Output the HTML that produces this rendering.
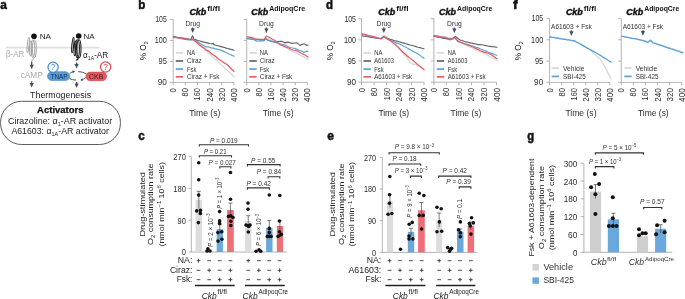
<!DOCTYPE html>
<html><head><meta charset="utf-8"><style>
html,body{margin:0;padding:0;background:#fff;width:685px;height:299px;overflow:hidden}
svg{display:block;will-change:transform}
text{font-family:"Liberation Sans",sans-serif}
</style></head><body>
<svg xmlns="http://www.w3.org/2000/svg" width="685" height="299" viewBox="0 0 685 299">
<rect width="685" height="299" fill="#fff"/>
<text x="0.20" y="9.20" font-family="Liberation Sans, sans-serif" font-size="12.2" text-anchor="start" font-weight="bold" font-style="normal" fill="#111" textLength="6.6" lengthAdjust="spacingAndGlyphs" stroke="#111" stroke-width="0.5">a</text>
<line x1="6.00" y1="47.70" x2="99.60" y2="47.70" stroke="#e0e0e0" stroke-width="1.8" />
<g transform="translate(0,0)" fill="none" stroke="#a4a4a4" stroke-width="1.0"><ellipse cx="28.2" cy="45.0" rx="0.9" ry="7.8" transform="rotate(6 28.2 45)"/><ellipse cx="30.6" cy="48.3" rx="1.1" ry="7.3" transform="rotate(3 30.6 48.3)"/><ellipse cx="32.9" cy="48.7" rx="1.9" ry="9.0"/><ellipse cx="34.4" cy="48.7" rx="2.0" ry="9.0"/><path d="M33.6,57.6 C33.6,59.4 32.8,60.3 31.3,60.3"/></g>
<g transform="translate(44.6,0)" fill="none" stroke="#1b1b1b" stroke-width="1.1"><ellipse cx="28.2" cy="45.0" rx="0.9" ry="7.8" transform="rotate(6 28.2 45)"/><ellipse cx="30.6" cy="48.3" rx="1.1" ry="7.3" transform="rotate(3 30.6 48.3)"/><ellipse cx="32.9" cy="48.7" rx="1.9" ry="9.0"/><ellipse cx="34.4" cy="48.7" rx="2.0" ry="9.0"/><path d="M33.6,57.6 C33.6,59.4 32.8,60.3 31.3,60.3"/></g>
<circle cx="34.00" cy="36.20" r="2.8" fill="#111"/>
<circle cx="78.70" cy="36.00" r="2.8" fill="#111"/>
<text x="39.70" y="38.60" font-family="Liberation Sans, sans-serif" font-size="8.0" text-anchor="start" font-weight="normal" font-style="normal" fill="#222" textLength="11.3" lengthAdjust="spacingAndGlyphs" >NA</text>
<text x="83.60" y="38.50" font-family="Liberation Sans, sans-serif" font-size="8.0" text-anchor="start" font-weight="normal" font-style="normal" fill="#222" textLength="11.1" lengthAdjust="spacingAndGlyphs" >NA</text>
<text x="6.00" y="57.00" font-family="Liberation Sans, sans-serif" font-size="8.3" text-anchor="start" font-weight="normal" font-style="normal" fill="#a9a9a9" textLength="18.1" lengthAdjust="spacingAndGlyphs" >β-AR</text>
<text x="83.10" y="57.90" font-family="Liberation Sans, sans-serif" font-size="8.6" text-anchor="start" font-weight="normal" font-style="normal" fill="#222" textLength="25.2" lengthAdjust="spacingAndGlyphs" >α<tspan font-size="5.3" dy="1.8">1A</tspan><tspan dy="-1.8">-AR</tspan></text>
<text x="20.70" y="78.30" font-family="Liberation Sans, sans-serif" font-size="8.3" text-anchor="start" font-weight="normal" font-style="normal" fill="#aaaaaa" textLength="22.1" lengthAdjust="spacingAndGlyphs" >cAMP</text>
<line x1="31.70" y1="61.50" x2="31.70" y2="65.80" stroke="#3c5069" stroke-width="1.3" />
<path d="M29.60,64.70 L33.80,64.70 L31.70,69.30 Z" fill="#3c5069"/>
<line x1="31.70" y1="81.30" x2="31.70" y2="84.10" stroke="#3c5069" stroke-width="1.3" />
<path d="M29.60,83.00 L33.80,83.00 L31.70,87.60 Z" fill="#3c5069"/>
<line x1="76.60" y1="62.50" x2="76.60" y2="65.10" stroke="#3c5069" stroke-width="1.3" />
<path d="M74.50,64.00 L78.70,64.00 L76.60,68.60 Z" fill="#3c5069"/>
<line x1="76.60" y1="82.00" x2="76.60" y2="84.50" stroke="#3c5069" stroke-width="1.3" />
<path d="M74.50,83.40 L78.70,83.40 L76.60,88.00 Z" fill="#3c5069"/>
<rect x="47.5" y="71.7" width="22.2" height="8.9" rx="4.45" fill="#5a9bd6" stroke="#3f84c6" stroke-width="0.6"/>
<text x="59.00" y="78.90" font-family="Liberation Sans, sans-serif" font-size="7.4" text-anchor="middle" font-weight="normal" font-style="normal" fill="#1f2f44" textLength="17.0" lengthAdjust="spacingAndGlyphs" >TNAP</text>
<rect x="85.9" y="72.1" width="20.7" height="8.6" rx="4.3" fill="#e35a62" stroke="#c9434c" stroke-width="0.6"/>
<text x="96.20" y="79.20" font-family="Liberation Sans, sans-serif" font-size="7.4" text-anchor="middle" font-weight="normal" font-style="normal" fill="#3a1a1e" textLength="14.5" lengthAdjust="spacingAndGlyphs" >CKB</text>
<circle cx="53.1" cy="67.2" r="5.1" fill="#fff" stroke="#3f8bd0" stroke-width="1.2"/>
<text x="53.10" y="70.30" font-family="Liberation Sans, sans-serif" font-size="8.2" text-anchor="middle" font-weight="normal" font-style="normal" fill="#3f8bd0" >?</text>
<circle cx="105.6" cy="67.0" r="5.1" fill="#fff" stroke="#dc4550" stroke-width="1.2"/>
<text x="105.60" y="70.10" font-family="Liberation Sans, sans-serif" font-size="8.2" text-anchor="middle" font-weight="normal" font-style="normal" fill="#dc4550" >?</text>
<path d="M69.6,73.6 C71,72.4 72.5,71.8 74.2,71.6" fill="none" stroke="#3c5069" stroke-width="1.0"/>
<path d="M75.2,71.5 L72.4,70.2 L72.9,73.0 Z" fill="#3c5069"/>
<path d="M78.2,71.7 C81,71.7 84,72.4 86.2,74.0" fill="none" stroke="#3c5069" stroke-width="1.0"/>
<path d="M85.8,77.6 C84.5,78.8 83,79.5 81.2,79.9" fill="none" stroke="#3c5069" stroke-width="1.0"/>
<path d="M80.2,80.1 L82.8,78.6 L82.6,81.3 Z" fill="#3c5069"/>
<path d="M69.6,78.6 C71.5,79.6 73.5,80 76.0,80.0" fill="none" stroke="#3c5069" stroke-width="1.0"/>
<text x="30.10" y="97.70" font-family="Liberation Sans, sans-serif" font-size="9.6" text-anchor="start" font-weight="normal" font-style="normal" fill="#222" textLength="61.0" lengthAdjust="spacingAndGlyphs" >Thermogenesis</text>
<rect x="0.6" y="101.3" width="119.8" height="43.2" rx="21" ry="21" fill="none" stroke="#333" stroke-width="0.8"/>
<text x="37.10" y="112.60" font-family="Liberation Sans, sans-serif" font-size="9.6" text-anchor="start" font-weight="bold" font-style="normal" fill="#111" textLength="46.4" lengthAdjust="spacingAndGlyphs" stroke="#111" stroke-width="0.25">Activators</text>
<text x="8.00" y="124.20" font-family="Liberation Sans, sans-serif" font-size="8.7" text-anchor="start" font-weight="normal" font-style="normal" fill="#222" textLength="104.2" lengthAdjust="spacingAndGlyphs" >Cirazoline: α<tspan font-size="5.4" dy="1.8">1</tspan><tspan dy="-1.8">-AR activator</tspan></text>
<text x="11.40" y="133.90" font-family="Liberation Sans, sans-serif" font-size="8.7" text-anchor="start" font-weight="normal" font-style="normal" fill="#222" textLength="97.5" lengthAdjust="spacingAndGlyphs" >A61603: α<tspan font-size="5.4" dy="1.8">1A</tspan><tspan dy="-1.8">-AR activator</tspan></text>
<text x="138.20" y="9.20" font-family="Liberation Sans, sans-serif" font-size="12.2" text-anchor="start" font-weight="bold" font-style="normal" fill="#111" textLength="7.1" lengthAdjust="spacingAndGlyphs" stroke="#111" stroke-width="0.5">b</text>
<text transform="translate(146.20,50.80) rotate(-90)" font-family="Liberation Sans, sans-serif" font-size="9.0" text-anchor="middle" font-weight="normal" font-style="normal" fill="#222" textLength="18.7" lengthAdjust="spacingAndGlyphs" >% O<tspan font-size="5.6" dy="2">2</tspan></text>
<line x1="173.20" y1="19.40" x2="173.20" y2="82.40" stroke="#a2a2a2" stroke-width="0.8" />
<line x1="170.00" y1="19.40" x2="173.20" y2="19.40" stroke="#a2a2a2" stroke-width="0.8" />
<text x="166.80" y="22.35" font-family="Liberation Sans, sans-serif" font-size="8.7" text-anchor="end" font-weight="normal" font-style="normal" fill="#2b2b2b" textLength="11.6" lengthAdjust="spacingAndGlyphs" >105</text>
<line x1="170.00" y1="40.40" x2="173.20" y2="40.40" stroke="#a2a2a2" stroke-width="0.8" />
<text x="166.80" y="43.35" font-family="Liberation Sans, sans-serif" font-size="8.7" text-anchor="end" font-weight="normal" font-style="normal" fill="#2b2b2b" textLength="12.1" lengthAdjust="spacingAndGlyphs" >100</text>
<line x1="170.00" y1="61.40" x2="173.20" y2="61.40" stroke="#a2a2a2" stroke-width="0.8" />
<text x="166.80" y="64.35" font-family="Liberation Sans, sans-serif" font-size="8.7" text-anchor="end" font-weight="normal" font-style="normal" fill="#2b2b2b" textLength="8.3" lengthAdjust="spacingAndGlyphs" >95</text>
<line x1="170.00" y1="82.40" x2="173.20" y2="82.40" stroke="#a2a2a2" stroke-width="0.8" />
<text x="166.80" y="85.35" font-family="Liberation Sans, sans-serif" font-size="8.7" text-anchor="end" font-weight="normal" font-style="normal" fill="#2b2b2b" textLength="9.1" lengthAdjust="spacingAndGlyphs" >90</text>
<line x1="173.20" y1="82.40" x2="233.90" y2="82.40" stroke="#a2a2a2" stroke-width="0.8" />
<line x1="173.20" y1="82.40" x2="173.20" y2="85.40" stroke="#a2a2a2" stroke-width="0.8" />
<text transform="translate(176.20,88.10) rotate(-90)" font-family="Liberation Sans, sans-serif" font-size="8.6" text-anchor="end" font-weight="normal" font-style="normal" fill="#2b2b2b" textLength="4.3" lengthAdjust="spacingAndGlyphs" >0</text>
<line x1="185.34" y1="82.40" x2="185.34" y2="85.40" stroke="#a2a2a2" stroke-width="0.8" />
<text transform="translate(188.34,88.10) rotate(-90)" font-family="Liberation Sans, sans-serif" font-size="8.6" text-anchor="end" font-weight="normal" font-style="normal" fill="#2b2b2b" textLength="8.4" lengthAdjust="spacingAndGlyphs" >80</text>
<line x1="197.48" y1="82.40" x2="197.48" y2="85.40" stroke="#a2a2a2" stroke-width="0.8" />
<text transform="translate(200.48,88.10) rotate(-90)" font-family="Liberation Sans, sans-serif" font-size="8.6" text-anchor="end" font-weight="normal" font-style="normal" fill="#2b2b2b" textLength="12.3" lengthAdjust="spacingAndGlyphs" >160</text>
<line x1="209.62" y1="82.40" x2="209.62" y2="85.40" stroke="#a2a2a2" stroke-width="0.8" />
<text transform="translate(212.62,88.10) rotate(-90)" font-family="Liberation Sans, sans-serif" font-size="8.6" text-anchor="end" font-weight="normal" font-style="normal" fill="#2b2b2b" textLength="13.6" lengthAdjust="spacingAndGlyphs" >240</text>
<line x1="221.76" y1="82.40" x2="221.76" y2="85.40" stroke="#a2a2a2" stroke-width="0.8" />
<text transform="translate(224.76,88.10) rotate(-90)" font-family="Liberation Sans, sans-serif" font-size="8.6" text-anchor="end" font-weight="normal" font-style="normal" fill="#2b2b2b" textLength="13.4" lengthAdjust="spacingAndGlyphs" >320</text>
<line x1="233.90" y1="82.40" x2="233.90" y2="85.40" stroke="#a2a2a2" stroke-width="0.8" />
<text transform="translate(236.90,88.10) rotate(-90)" font-family="Liberation Sans, sans-serif" font-size="8.6" text-anchor="end" font-weight="normal" font-style="normal" fill="#2b2b2b" textLength="13.8" lengthAdjust="spacingAndGlyphs" >400</text>
<text x="189.20" y="115.60" font-family="Liberation Sans, sans-serif" font-size="9.4" text-anchor="start" font-weight="normal" font-style="normal" fill="#2b2b2b" textLength="31.100000000000023" lengthAdjust="spacingAndGlyphs" >Time (s)</text>
<text x="189.40" y="14.60" font-family="Liberation Sans, sans-serif" font-size="9" text-anchor="start" font-weight="bold" font-style="italic" fill="#111" textLength="16.9" lengthAdjust="spacingAndGlyphs" stroke="#111" stroke-width="0.4">Ckb</text>
<text x="207.30" y="11.00" font-family="Liberation Sans, sans-serif" font-size="6.3" text-anchor="start" font-weight="bold" font-style="normal" fill="#111" textLength="12.7" lengthAdjust="spacingAndGlyphs" >fl/fl</text>
<text x="192.70" y="25.50" font-family="Liberation Sans, sans-serif" font-size="7.7" text-anchor="middle" font-weight="normal" font-style="normal" fill="#333" textLength="14.6" lengthAdjust="spacingAndGlyphs" >Drug</text>
<line x1="192.70" y1="27.50" x2="192.70" y2="29.60" stroke="#3c5069" stroke-width="1.3" />
<path d="M190.60,28.50 L194.80,28.50 L192.70,33.10 Z" fill="#3c5069"/>
<polyline points="174.00,36.80 176.14,37.15 178.29,37.65 180.43,38.08 182.57,38.47 184.71,38.80 186.86,39.16 189.00,39.60 191.00,39.91 193.00,39.97 195.00,40.20 197.05,42.19 199.11,44.01 201.16,45.83 203.21,47.98 205.26,49.97 207.32,51.74 209.37,53.72 211.42,55.53 213.47,57.44 215.53,59.49 217.58,61.46 219.63,63.17 221.68,65.38 223.74,67.11 225.79,68.97 227.84,70.99 229.89,72.89 231.95,74.81 234.00,76.80" fill="none" stroke="#d9d9d9" stroke-width="1.3" stroke-linejoin="round" stroke-linecap="round" />
<polyline points="173.40,36.70 175.93,37.19 178.47,37.48 181.00,37.90 183.45,38.16 185.90,38.66 188.35,39.02 190.80,39.50 192.50,35.70 194.00,39.30 196.00,39.80 198.00,40.58 200.00,40.99 202.00,41.67 204.00,42.20 206.00,42.59 208.00,43.07 210.00,43.53 212.00,43.90 213.00,43.20 214.00,44.60 216.00,45.23 218.00,45.77 220.00,46.37 222.00,46.93 224.00,47.30 226.00,48.10 228.00,48.47 230.00,49.17 232.00,49.60 234.00,50.30" fill="none" stroke="#636363" stroke-width="1.2" stroke-linejoin="round" stroke-linecap="round" />
<polyline points="173.40,37.40 175.63,37.73 177.86,37.94 180.09,38.50 182.31,38.95 184.54,39.19 186.77,39.74 189.00,39.90 191.00,39.79 193.00,39.60 196.00,41.20 198.25,42.30 200.50,43.75 202.75,45.02 205.00,46.30 207.14,46.91 209.29,47.21 211.43,47.90 213.57,48.17 215.71,48.94 217.86,49.32 220.00,49.80 222.00,50.64 224.00,51.62 226.00,52.57 228.00,53.43 230.00,54.48 232.00,55.33 234.00,56.20" fill="none" stroke="#58a2dd" stroke-width="1.2" stroke-linejoin="round" stroke-linecap="round" />
<polyline points="173.40,36.90 175.72,37.06 178.04,37.94 180.36,38.05 182.68,38.43 185.00,39.10 187.50,39.44 190.00,39.30 193.00,39.20 195.33,41.35 197.67,43.41 200.00,45.40 202.00,46.82 204.00,47.92 206.00,49.82 208.00,50.81 210.00,52.30 212.00,54.12 214.00,55.27 216.00,56.80 218.00,58.68 220.00,60.00 222.33,61.53 224.67,63.25 227.00,64.50 229.33,66.75 231.67,69.18 234.00,71.30" fill="none" stroke="#eb5866" stroke-width="1.3" stroke-linejoin="round" stroke-linecap="round" />
<line x1="175.80" y1="52.90" x2="183.20" y2="52.90" stroke="#d9d9d9" stroke-width="1.7" />
<text x="187.00" y="55.35" font-family="Liberation Sans, sans-serif" font-size="7.1" text-anchor="start" font-weight="normal" font-style="normal" fill="#333" textLength="8.1" lengthAdjust="spacingAndGlyphs" >NA</text>
<line x1="175.80" y1="61.00" x2="183.20" y2="61.00" stroke="#636363" stroke-width="1.7" />
<text x="187.00" y="63.45" font-family="Liberation Sans, sans-serif" font-size="7.1" text-anchor="start" font-weight="normal" font-style="normal" fill="#333" textLength="14.8" lengthAdjust="spacingAndGlyphs" >Ciraz</text>
<line x1="175.80" y1="69.10" x2="183.20" y2="69.10" stroke="#58a2dd" stroke-width="1.7" />
<text x="187.00" y="71.55" font-family="Liberation Sans, sans-serif" font-size="7.1" text-anchor="start" font-weight="normal" font-style="normal" fill="#333" textLength="9.3" lengthAdjust="spacingAndGlyphs" >Fsk</text>
<line x1="175.80" y1="76.80" x2="183.20" y2="76.80" stroke="#eb5866" stroke-width="1.7" />
<text x="187.00" y="79.25" font-family="Liberation Sans, sans-serif" font-size="7.1" text-anchor="start" font-weight="normal" font-style="normal" fill="#333" textLength="32.5" lengthAdjust="spacingAndGlyphs" >Ciraz + Fsk</text>
<line x1="246.70" y1="19.40" x2="246.70" y2="82.40" stroke="#a2a2a2" stroke-width="0.8" />
<line x1="243.50" y1="19.40" x2="246.70" y2="19.40" stroke="#a2a2a2" stroke-width="0.8" />
<line x1="243.50" y1="40.40" x2="246.70" y2="40.40" stroke="#a2a2a2" stroke-width="0.8" />
<line x1="243.50" y1="61.40" x2="246.70" y2="61.40" stroke="#a2a2a2" stroke-width="0.8" />
<line x1="243.50" y1="82.40" x2="246.70" y2="82.40" stroke="#a2a2a2" stroke-width="0.8" />
<line x1="246.70" y1="82.40" x2="307.40" y2="82.40" stroke="#a2a2a2" stroke-width="0.8" />
<line x1="246.70" y1="82.40" x2="246.70" y2="85.40" stroke="#a2a2a2" stroke-width="0.8" />
<text transform="translate(249.70,88.10) rotate(-90)" font-family="Liberation Sans, sans-serif" font-size="8.6" text-anchor="end" font-weight="normal" font-style="normal" fill="#2b2b2b" textLength="4.3" lengthAdjust="spacingAndGlyphs" >0</text>
<line x1="258.84" y1="82.40" x2="258.84" y2="85.40" stroke="#a2a2a2" stroke-width="0.8" />
<text transform="translate(261.84,88.10) rotate(-90)" font-family="Liberation Sans, sans-serif" font-size="8.6" text-anchor="end" font-weight="normal" font-style="normal" fill="#2b2b2b" textLength="8.4" lengthAdjust="spacingAndGlyphs" >80</text>
<line x1="270.98" y1="82.40" x2="270.98" y2="85.40" stroke="#a2a2a2" stroke-width="0.8" />
<text transform="translate(273.98,88.10) rotate(-90)" font-family="Liberation Sans, sans-serif" font-size="8.6" text-anchor="end" font-weight="normal" font-style="normal" fill="#2b2b2b" textLength="12.3" lengthAdjust="spacingAndGlyphs" >160</text>
<line x1="283.12" y1="82.40" x2="283.12" y2="85.40" stroke="#a2a2a2" stroke-width="0.8" />
<text transform="translate(286.12,88.10) rotate(-90)" font-family="Liberation Sans, sans-serif" font-size="8.6" text-anchor="end" font-weight="normal" font-style="normal" fill="#2b2b2b" textLength="13.6" lengthAdjust="spacingAndGlyphs" >240</text>
<line x1="295.26" y1="82.40" x2="295.26" y2="85.40" stroke="#a2a2a2" stroke-width="0.8" />
<text transform="translate(298.26,88.10) rotate(-90)" font-family="Liberation Sans, sans-serif" font-size="8.6" text-anchor="end" font-weight="normal" font-style="normal" fill="#2b2b2b" textLength="13.4" lengthAdjust="spacingAndGlyphs" >320</text>
<line x1="307.40" y1="82.40" x2="307.40" y2="85.40" stroke="#a2a2a2" stroke-width="0.8" />
<text transform="translate(310.40,88.10) rotate(-90)" font-family="Liberation Sans, sans-serif" font-size="8.6" text-anchor="end" font-weight="normal" font-style="normal" fill="#2b2b2b" textLength="13.8" lengthAdjust="spacingAndGlyphs" >400</text>
<text x="262.80" y="115.60" font-family="Liberation Sans, sans-serif" font-size="9.4" text-anchor="start" font-weight="normal" font-style="normal" fill="#2b2b2b" textLength="30.69999999999999" lengthAdjust="spacingAndGlyphs" >Time (s)</text>
<text x="251.30" y="14.60" font-family="Liberation Sans, sans-serif" font-size="9" text-anchor="start" font-weight="bold" font-style="italic" fill="#111" textLength="16.9" lengthAdjust="spacingAndGlyphs" stroke="#111" stroke-width="0.4">Ckb</text>
<text x="269.20" y="11.00" font-family="Liberation Sans, sans-serif" font-size="6.3" text-anchor="start" font-weight="bold" font-style="normal" fill="#111" textLength="35.9" lengthAdjust="spacingAndGlyphs" >AdipoqCre</text>
<text x="266.40" y="25.50" font-family="Liberation Sans, sans-serif" font-size="7.7" text-anchor="middle" font-weight="normal" font-style="normal" fill="#333" textLength="14.6" lengthAdjust="spacingAndGlyphs" >Drug</text>
<line x1="266.40" y1="27.50" x2="266.40" y2="29.60" stroke="#3c5069" stroke-width="1.3" />
<path d="M264.30,28.50 L268.50,28.50 L266.40,33.10 Z" fill="#3c5069"/>
<polyline points="247.00,36.60 249.50,36.97 252.00,37.00 254.00,37.61 256.00,38.20 258.00,38.94 260.00,39.50 262.00,39.38 264.00,39.60 266.00,38.00 268.00,38.78 270.00,39.60 272.50,40.98 275.00,42.30 277.00,43.22 279.00,44.29 281.00,45.32 283.00,46.37 285.00,47.06 287.00,48.20 289.00,49.34 291.00,50.26 293.00,51.27 295.00,52.64 297.00,53.50 299.20,54.71 301.40,55.76 303.60,56.76 305.80,58.25 308.00,59.20" fill="none" stroke="#d9d9d9" stroke-width="1.4" stroke-linejoin="round" stroke-linecap="round" />
<polyline points="247.00,38.80 249.50,38.99 252.00,39.20 254.00,39.20 256.00,39.40 258.00,39.72 260.00,39.90 262.00,40.02 264.00,40.00 265.50,38.40 268.00,40.50 270.00,41.05 272.00,41.40 275.00,42.10 278.00,41.50 280.00,41.42 282.00,41.30 285.00,42.90 288.00,42.10 290.00,42.68 292.00,43.40 294.50,43.05 297.00,42.90 300.00,45.40 302.00,44.54 304.00,43.80 307.00,45.40 308.00,45.00" fill="none" stroke="#636363" stroke-width="1.15" stroke-linejoin="round" stroke-linecap="round" />
<polyline points="247.00,38.40 250.00,38.00 253.00,39.30 255.00,40.35 257.00,41.20 259.00,40.97 261.00,40.60 264.00,41.00 266.00,38.60 268.00,40.00 270.33,40.79 272.67,41.47 275.00,42.10 277.33,42.86 279.67,43.56 282.00,44.20 284.00,44.75 286.00,45.40 288.00,46.55 290.00,47.50 292.50,48.01 295.00,48.40 297.50,49.45 300.00,50.50 302.00,51.30 304.00,52.50 306.00,51.30 308.00,51.30" fill="none" stroke="#58a2dd" stroke-width="1.15" stroke-linejoin="round" stroke-linecap="round" />
<polyline points="247.00,36.90 249.50,37.28 252.00,37.80 254.00,38.81 256.00,39.60 258.00,39.43 260.00,39.40 262.00,39.43 264.00,39.40 266.50,36.00 270.00,37.80 272.50,39.19 275.00,40.50 277.50,42.59 280.00,44.60 282.33,45.57 284.67,46.64 287.00,47.50 289.00,48.23 291.00,49.25 293.00,50.00 295.00,50.45 297.00,50.90 300.00,52.50 302.50,53.84 305.00,55.00 308.00,57.10" fill="none" stroke="#eb5866" stroke-width="1.2" stroke-linejoin="round" stroke-linecap="round" />
<line x1="249.30" y1="52.90" x2="256.70" y2="52.90" stroke="#d9d9d9" stroke-width="1.7" />
<text x="259.80" y="55.35" font-family="Liberation Sans, sans-serif" font-size="7.1" text-anchor="start" font-weight="normal" font-style="normal" fill="#333" textLength="8.1" lengthAdjust="spacingAndGlyphs" >NA</text>
<line x1="249.30" y1="61.00" x2="256.70" y2="61.00" stroke="#636363" stroke-width="1.7" />
<text x="259.80" y="63.45" font-family="Liberation Sans, sans-serif" font-size="7.1" text-anchor="start" font-weight="normal" font-style="normal" fill="#333" textLength="14.8" lengthAdjust="spacingAndGlyphs" >Ciraz</text>
<line x1="249.30" y1="69.10" x2="256.70" y2="69.10" stroke="#58a2dd" stroke-width="1.7" />
<text x="259.80" y="71.55" font-family="Liberation Sans, sans-serif" font-size="7.1" text-anchor="start" font-weight="normal" font-style="normal" fill="#333" textLength="9.3" lengthAdjust="spacingAndGlyphs" >Fsk</text>
<line x1="249.30" y1="76.80" x2="256.70" y2="76.80" stroke="#eb5866" stroke-width="1.7" />
<text x="259.80" y="79.25" font-family="Liberation Sans, sans-serif" font-size="7.1" text-anchor="start" font-weight="normal" font-style="normal" fill="#333" textLength="32.5" lengthAdjust="spacingAndGlyphs" >Ciraz + Fsk</text>
<text x="326.00" y="9.20" font-family="Liberation Sans, sans-serif" font-size="12.2" text-anchor="start" font-weight="bold" font-style="normal" fill="#111" textLength="7.0" lengthAdjust="spacingAndGlyphs" stroke="#111" stroke-width="0.5">d</text>
<text transform="translate(332.90,50.80) rotate(-90)" font-family="Liberation Sans, sans-serif" font-size="9.0" text-anchor="middle" font-weight="normal" font-style="normal" fill="#222" textLength="18.7" lengthAdjust="spacingAndGlyphs" >% O<tspan font-size="5.6" dy="2">2</tspan></text>
<line x1="361.50" y1="18.70" x2="361.50" y2="82.20" stroke="#a2a2a2" stroke-width="0.8" />
<line x1="358.30" y1="18.70" x2="361.50" y2="18.70" stroke="#a2a2a2" stroke-width="0.8" />
<text x="356.00" y="21.65" font-family="Liberation Sans, sans-serif" font-size="8.7" text-anchor="end" font-weight="normal" font-style="normal" fill="#2b2b2b" textLength="11.6" lengthAdjust="spacingAndGlyphs" >105</text>
<line x1="358.30" y1="39.87" x2="361.50" y2="39.87" stroke="#a2a2a2" stroke-width="0.8" />
<text x="356.00" y="42.82" font-family="Liberation Sans, sans-serif" font-size="8.7" text-anchor="end" font-weight="normal" font-style="normal" fill="#2b2b2b" textLength="12.1" lengthAdjust="spacingAndGlyphs" >100</text>
<line x1="358.30" y1="61.03" x2="361.50" y2="61.03" stroke="#a2a2a2" stroke-width="0.8" />
<text x="356.00" y="63.98" font-family="Liberation Sans, sans-serif" font-size="8.7" text-anchor="end" font-weight="normal" font-style="normal" fill="#2b2b2b" textLength="8.3" lengthAdjust="spacingAndGlyphs" >95</text>
<line x1="358.30" y1="82.20" x2="361.50" y2="82.20" stroke="#a2a2a2" stroke-width="0.8" />
<text x="356.00" y="85.15" font-family="Liberation Sans, sans-serif" font-size="8.7" text-anchor="end" font-weight="normal" font-style="normal" fill="#2b2b2b" textLength="9.1" lengthAdjust="spacingAndGlyphs" >90</text>
<line x1="361.50" y1="82.20" x2="424.00" y2="82.20" stroke="#a2a2a2" stroke-width="0.8" />
<line x1="361.50" y1="82.20" x2="361.50" y2="85.20" stroke="#a2a2a2" stroke-width="0.8" />
<text transform="translate(364.50,87.90) rotate(-90)" font-family="Liberation Sans, sans-serif" font-size="8.6" text-anchor="end" font-weight="normal" font-style="normal" fill="#2b2b2b" textLength="4.3" lengthAdjust="spacingAndGlyphs" >0</text>
<line x1="374.00" y1="82.20" x2="374.00" y2="85.20" stroke="#a2a2a2" stroke-width="0.8" />
<text transform="translate(377.00,87.90) rotate(-90)" font-family="Liberation Sans, sans-serif" font-size="8.6" text-anchor="end" font-weight="normal" font-style="normal" fill="#2b2b2b" textLength="8.4" lengthAdjust="spacingAndGlyphs" >80</text>
<line x1="386.50" y1="82.20" x2="386.50" y2="85.20" stroke="#a2a2a2" stroke-width="0.8" />
<text transform="translate(389.50,87.90) rotate(-90)" font-family="Liberation Sans, sans-serif" font-size="8.6" text-anchor="end" font-weight="normal" font-style="normal" fill="#2b2b2b" textLength="12.3" lengthAdjust="spacingAndGlyphs" >160</text>
<line x1="399.00" y1="82.20" x2="399.00" y2="85.20" stroke="#a2a2a2" stroke-width="0.8" />
<text transform="translate(402.00,87.90) rotate(-90)" font-family="Liberation Sans, sans-serif" font-size="8.6" text-anchor="end" font-weight="normal" font-style="normal" fill="#2b2b2b" textLength="13.6" lengthAdjust="spacingAndGlyphs" >240</text>
<line x1="411.50" y1="82.20" x2="411.50" y2="85.20" stroke="#a2a2a2" stroke-width="0.8" />
<text transform="translate(414.50,87.90) rotate(-90)" font-family="Liberation Sans, sans-serif" font-size="8.6" text-anchor="end" font-weight="normal" font-style="normal" fill="#2b2b2b" textLength="13.4" lengthAdjust="spacingAndGlyphs" >320</text>
<line x1="424.00" y1="82.20" x2="424.00" y2="85.20" stroke="#a2a2a2" stroke-width="0.8" />
<text transform="translate(427.00,87.90) rotate(-90)" font-family="Liberation Sans, sans-serif" font-size="8.6" text-anchor="end" font-weight="normal" font-style="normal" fill="#2b2b2b" textLength="13.8" lengthAdjust="spacingAndGlyphs" >400</text>
<text x="378.40" y="115.60" font-family="Liberation Sans, sans-serif" font-size="9.4" text-anchor="start" font-weight="normal" font-style="normal" fill="#2b2b2b" textLength="30.700000000000045" lengthAdjust="spacingAndGlyphs" >Time (s)</text>
<text x="378.30" y="14.60" font-family="Liberation Sans, sans-serif" font-size="9" text-anchor="start" font-weight="bold" font-style="italic" fill="#111" textLength="16.9" lengthAdjust="spacingAndGlyphs" stroke="#111" stroke-width="0.4">Ckb</text>
<text x="396.20" y="11.00" font-family="Liberation Sans, sans-serif" font-size="6.3" text-anchor="start" font-weight="bold" font-style="normal" fill="#111" textLength="12.4" lengthAdjust="spacingAndGlyphs" >fl/fl</text>
<text x="383.80" y="25.50" font-family="Liberation Sans, sans-serif" font-size="7.7" text-anchor="middle" font-weight="normal" font-style="normal" fill="#333" textLength="14.4" lengthAdjust="spacingAndGlyphs" >Drug</text>
<line x1="383.80" y1="27.50" x2="383.80" y2="29.60" stroke="#3c5069" stroke-width="1.3" />
<path d="M381.70,28.50 L385.90,28.50 L383.80,33.10 Z" fill="#3c5069"/>
<polyline points="362.00,33.80 364.11,34.50 366.22,34.72 368.33,35.51 370.44,35.89 372.56,36.62 374.67,37.17 376.78,37.63 378.89,37.92 381.00,38.60 383.80,35.20 386.00,36.60 388.00,37.77 390.00,39.36 392.00,40.50 394.00,42.55 396.00,44.44 398.00,46.50 400.33,49.57 402.67,52.49 405.00,55.60 407.50,58.76 410.00,62.30 413.00,64.30 416.00,64.60 418.00,65.82 420.00,66.83 422.00,68.12 424.00,69.40" fill="none" stroke="#d9d9d9" stroke-width="1.4" stroke-linejoin="round" stroke-linecap="round" />
<polyline points="362.00,35.90 364.11,36.26 366.22,36.55 368.33,36.88 370.44,37.17 372.56,37.47 374.67,37.86 376.78,38.23 378.89,38.48 381.00,38.80 383.50,36.60 385.67,37.52 387.83,38.44 390.00,39.30 392.00,39.81 394.00,40.44 396.00,40.88 398.00,41.44 400.00,42.00 402.00,42.61 404.00,43.16 406.00,43.79 408.00,44.41 410.00,45.00 412.00,45.47 414.00,46.01 416.00,46.64 418.00,47.25 420.00,47.66 422.00,48.26 424.00,48.80" fill="none" stroke="#636363" stroke-width="1.15" stroke-linejoin="round" stroke-linecap="round" />
<polyline points="362.00,34.40 364.11,35.01 366.22,35.50 368.33,35.82 370.44,36.17 372.56,36.52 374.67,37.38 376.78,37.62 378.89,38.27 381.00,38.60 384.00,37.00 386.00,37.89 388.00,39.24 390.00,40.20 392.00,40.95 394.00,41.69 396.00,42.82 398.00,43.34 400.00,44.30 402.00,45.32 404.00,46.46 406.00,47.24 408.00,48.63 410.00,49.50 412.00,50.86 414.00,51.72 416.00,52.70 418.00,54.00 420.00,55.36 422.00,56.92 424.00,58.30" fill="none" stroke="#58a2dd" stroke-width="1.15" stroke-linejoin="round" stroke-linecap="round" />
<polyline points="362.00,33.80 364.11,34.45 366.22,34.70 368.33,35.57 370.44,36.09 372.56,36.34 374.67,36.89 376.78,37.54 378.89,38.12 381.00,38.60 384.00,37.00 386.00,38.04 388.00,39.49 390.00,40.50 392.50,42.48 395.00,44.30 397.00,46.37 399.00,48.29 401.00,50.21 403.00,52.26 405.00,54.00 407.00,55.76 409.00,57.52 411.00,58.84 413.00,60.50 415.00,62.30 417.25,64.28 419.50,65.94 421.75,67.90 424.00,69.80" fill="none" stroke="#eb5866" stroke-width="1.2" stroke-linejoin="round" stroke-linecap="round" />
<line x1="363.50" y1="52.90" x2="370.90" y2="52.90" stroke="#d9d9d9" stroke-width="1.7" />
<text x="374.30" y="55.35" font-family="Liberation Sans, sans-serif" font-size="7.1" text-anchor="start" font-weight="normal" font-style="normal" fill="#333" textLength="8.1" lengthAdjust="spacingAndGlyphs" >NA</text>
<line x1="363.50" y1="61.00" x2="370.90" y2="61.00" stroke="#636363" stroke-width="1.7" />
<text x="374.30" y="63.45" font-family="Liberation Sans, sans-serif" font-size="7.1" text-anchor="start" font-weight="normal" font-style="normal" fill="#333" textLength="19.5" lengthAdjust="spacingAndGlyphs" >A61603</text>
<line x1="363.50" y1="69.10" x2="370.90" y2="69.10" stroke="#58a2dd" stroke-width="1.7" />
<text x="374.30" y="71.55" font-family="Liberation Sans, sans-serif" font-size="7.1" text-anchor="start" font-weight="normal" font-style="normal" fill="#333" textLength="9.3" lengthAdjust="spacingAndGlyphs" >Fsk</text>
<line x1="363.50" y1="76.80" x2="370.90" y2="76.80" stroke="#eb5866" stroke-width="1.7" />
<text x="374.30" y="79.25" font-family="Liberation Sans, sans-serif" font-size="7.1" text-anchor="start" font-weight="normal" font-style="normal" fill="#333" textLength="37.7" lengthAdjust="spacingAndGlyphs" >A61603 + Fsk</text>
<line x1="433.90" y1="18.70" x2="433.90" y2="82.20" stroke="#a2a2a2" stroke-width="0.8" />
<line x1="430.70" y1="18.70" x2="433.90" y2="18.70" stroke="#a2a2a2" stroke-width="0.8" />
<line x1="430.70" y1="39.87" x2="433.90" y2="39.87" stroke="#a2a2a2" stroke-width="0.8" />
<line x1="430.70" y1="61.03" x2="433.90" y2="61.03" stroke="#a2a2a2" stroke-width="0.8" />
<line x1="430.70" y1="82.20" x2="433.90" y2="82.20" stroke="#a2a2a2" stroke-width="0.8" />
<line x1="433.90" y1="82.20" x2="496.50" y2="82.20" stroke="#a2a2a2" stroke-width="0.8" />
<line x1="433.90" y1="82.20" x2="433.90" y2="85.20" stroke="#a2a2a2" stroke-width="0.8" />
<text transform="translate(436.90,87.90) rotate(-90)" font-family="Liberation Sans, sans-serif" font-size="8.6" text-anchor="end" font-weight="normal" font-style="normal" fill="#2b2b2b" textLength="4.3" lengthAdjust="spacingAndGlyphs" >0</text>
<line x1="446.42" y1="82.20" x2="446.42" y2="85.20" stroke="#a2a2a2" stroke-width="0.8" />
<text transform="translate(449.42,87.90) rotate(-90)" font-family="Liberation Sans, sans-serif" font-size="8.6" text-anchor="end" font-weight="normal" font-style="normal" fill="#2b2b2b" textLength="8.4" lengthAdjust="spacingAndGlyphs" >80</text>
<line x1="458.94" y1="82.20" x2="458.94" y2="85.20" stroke="#a2a2a2" stroke-width="0.8" />
<text transform="translate(461.94,87.90) rotate(-90)" font-family="Liberation Sans, sans-serif" font-size="8.6" text-anchor="end" font-weight="normal" font-style="normal" fill="#2b2b2b" textLength="12.3" lengthAdjust="spacingAndGlyphs" >160</text>
<line x1="471.46" y1="82.20" x2="471.46" y2="85.20" stroke="#a2a2a2" stroke-width="0.8" />
<text transform="translate(474.46,87.90) rotate(-90)" font-family="Liberation Sans, sans-serif" font-size="8.6" text-anchor="end" font-weight="normal" font-style="normal" fill="#2b2b2b" textLength="13.6" lengthAdjust="spacingAndGlyphs" >240</text>
<line x1="483.98" y1="82.20" x2="483.98" y2="85.20" stroke="#a2a2a2" stroke-width="0.8" />
<text transform="translate(486.98,87.90) rotate(-90)" font-family="Liberation Sans, sans-serif" font-size="8.6" text-anchor="end" font-weight="normal" font-style="normal" fill="#2b2b2b" textLength="13.4" lengthAdjust="spacingAndGlyphs" >320</text>
<line x1="496.50" y1="82.20" x2="496.50" y2="85.20" stroke="#a2a2a2" stroke-width="0.8" />
<text transform="translate(499.50,87.90) rotate(-90)" font-family="Liberation Sans, sans-serif" font-size="8.6" text-anchor="end" font-weight="normal" font-style="normal" fill="#2b2b2b" textLength="13.8" lengthAdjust="spacingAndGlyphs" >400</text>
<text x="450.60" y="115.60" font-family="Liberation Sans, sans-serif" font-size="9.4" text-anchor="start" font-weight="normal" font-style="normal" fill="#2b2b2b" textLength="30.69999999999999" lengthAdjust="spacingAndGlyphs" >Time (s)</text>
<text x="439.10" y="14.60" font-family="Liberation Sans, sans-serif" font-size="9" text-anchor="start" font-weight="bold" font-style="italic" fill="#111" textLength="16.9" lengthAdjust="spacingAndGlyphs" stroke="#111" stroke-width="0.4">Ckb</text>
<text x="457.00" y="11.00" font-family="Liberation Sans, sans-serif" font-size="6.3" text-anchor="start" font-weight="bold" font-style="normal" fill="#111" textLength="35.4" lengthAdjust="spacingAndGlyphs" >AdipoqCre</text>
<text x="454.40" y="25.50" font-family="Liberation Sans, sans-serif" font-size="7.7" text-anchor="middle" font-weight="normal" font-style="normal" fill="#333" textLength="14.6" lengthAdjust="spacingAndGlyphs" >Drug</text>
<line x1="454.40" y1="27.50" x2="454.40" y2="29.60" stroke="#3c5069" stroke-width="1.3" />
<path d="M452.30,28.50 L456.50,28.50 L454.40,33.10 Z" fill="#3c5069"/>
<polyline points="434.00,36.00 436.00,36.18 438.00,36.67 440.00,37.00 442.00,37.24 444.00,37.99 446.00,38.40 448.00,38.93 450.00,39.29 452.00,39.40 455.00,37.60 458.00,41.50 460.00,42.56 462.00,43.14 464.00,44.12 466.00,45.01 468.00,46.18 470.00,47.00 472.00,47.84 474.00,48.61 476.00,49.90 478.00,50.52 480.00,51.86 482.00,52.39 484.00,53.50 486.17,54.40 488.33,55.87 490.50,57.17 492.67,58.13 494.83,59.05 497.00,60.40" fill="none" stroke="#d9d9d9" stroke-width="1.4" stroke-linejoin="round" stroke-linecap="round" />
<polyline points="434.00,36.40 436.00,36.73 438.00,37.14 440.00,37.50 442.00,37.83 444.00,38.33 446.00,38.60 448.00,38.59 450.00,38.85 452.00,39.00 455.50,36.40 457.75,38.18 460.00,40.00 462.00,40.48 464.00,41.18 466.00,41.83 468.00,42.18 470.00,42.90 472.00,43.14 474.00,43.69 476.00,44.00 478.00,44.60 480.00,44.58 482.00,44.80 484.00,45.20 486.00,45.59 488.00,46.06 490.00,46.40 492.33,46.79 494.67,46.86 497.00,47.30" fill="none" stroke="#636363" stroke-width="1.15" stroke-linejoin="round" stroke-linecap="round" />
<polyline points="434.00,35.30 436.00,35.89 438.00,35.80 440.00,36.66 442.00,37.00 444.00,37.16 446.00,37.30 448.00,38.01 450.00,38.20 453.00,38.90 455.00,37.60 458.00,41.70 460.00,41.97 462.00,42.95 464.00,43.73 466.00,44.02 468.00,44.65 470.00,45.20 472.00,45.92 474.00,46.31 476.00,47.34 478.00,47.81 480.00,48.70 482.00,49.50 484.00,50.44 486.00,51.09 488.00,52.01 490.00,52.80 492.33,53.63 494.67,54.70 497.00,55.20" fill="none" stroke="#58a2dd" stroke-width="1.15" stroke-linejoin="round" stroke-linecap="round" />
<polyline points="434.00,36.00 436.00,36.21 438.00,36.67 440.00,36.80 442.50,37.06 445.00,37.60 447.50,38.96 450.00,40.00 452.25,38.52 454.50,37.30 458.00,41.10 460.00,41.96 462.00,42.59 464.00,43.48 466.00,44.37 468.00,45.08 470.00,45.80 472.00,46.71 474.00,47.45 476.00,48.63 478.00,49.31 480.00,50.50 482.00,51.36 484.00,52.14 486.00,52.59 488.00,53.30 490.00,54.00 492.33,55.41 494.67,57.22 497.00,58.70" fill="none" stroke="#eb5866" stroke-width="1.2" stroke-linejoin="round" stroke-linecap="round" />
<line x1="436.80" y1="52.90" x2="444.20" y2="52.90" stroke="#d9d9d9" stroke-width="1.7" />
<text x="447.80" y="55.35" font-family="Liberation Sans, sans-serif" font-size="7.1" text-anchor="start" font-weight="normal" font-style="normal" fill="#333" textLength="8.1" lengthAdjust="spacingAndGlyphs" >NA</text>
<line x1="436.80" y1="61.00" x2="444.20" y2="61.00" stroke="#636363" stroke-width="1.7" />
<text x="447.80" y="63.45" font-family="Liberation Sans, sans-serif" font-size="7.1" text-anchor="start" font-weight="normal" font-style="normal" fill="#333" textLength="19.5" lengthAdjust="spacingAndGlyphs" >A61603</text>
<line x1="436.80" y1="69.10" x2="444.20" y2="69.10" stroke="#58a2dd" stroke-width="1.7" />
<text x="447.80" y="71.55" font-family="Liberation Sans, sans-serif" font-size="7.1" text-anchor="start" font-weight="normal" font-style="normal" fill="#333" textLength="9.3" lengthAdjust="spacingAndGlyphs" >Fsk</text>
<line x1="436.80" y1="76.80" x2="444.20" y2="76.80" stroke="#eb5866" stroke-width="1.7" />
<text x="447.80" y="79.25" font-family="Liberation Sans, sans-serif" font-size="7.1" text-anchor="start" font-weight="normal" font-style="normal" fill="#333" textLength="37.7" lengthAdjust="spacingAndGlyphs" >A61603 + Fsk</text>
<text x="513.00" y="9.20" font-family="Liberation Sans, sans-serif" font-size="12.2" text-anchor="start" font-weight="bold" font-style="normal" fill="#111" textLength="4.6" lengthAdjust="spacingAndGlyphs" stroke="#111" stroke-width="0.5">f</text>
<text transform="translate(520.90,50.80) rotate(-90)" font-family="Liberation Sans, sans-serif" font-size="9.0" text-anchor="middle" font-weight="normal" font-style="normal" fill="#222" textLength="18.7" lengthAdjust="spacingAndGlyphs" >% O<tspan font-size="5.6" dy="2">2</tspan></text>
<line x1="549.60" y1="18.40" x2="549.60" y2="82.40" stroke="#a2a2a2" stroke-width="0.8" />
<line x1="546.40" y1="18.40" x2="549.60" y2="18.40" stroke="#a2a2a2" stroke-width="0.8" />
<text x="543.20" y="21.35" font-family="Liberation Sans, sans-serif" font-size="8.7" text-anchor="end" font-weight="normal" font-style="normal" fill="#2b2b2b" textLength="11.6" lengthAdjust="spacingAndGlyphs" >105</text>
<line x1="546.40" y1="39.73" x2="549.60" y2="39.73" stroke="#a2a2a2" stroke-width="0.8" />
<text x="543.20" y="42.68" font-family="Liberation Sans, sans-serif" font-size="8.7" text-anchor="end" font-weight="normal" font-style="normal" fill="#2b2b2b" textLength="12.1" lengthAdjust="spacingAndGlyphs" >100</text>
<line x1="546.40" y1="61.07" x2="549.60" y2="61.07" stroke="#a2a2a2" stroke-width="0.8" />
<text x="543.20" y="64.02" font-family="Liberation Sans, sans-serif" font-size="8.7" text-anchor="end" font-weight="normal" font-style="normal" fill="#2b2b2b" textLength="8.3" lengthAdjust="spacingAndGlyphs" >95</text>
<line x1="546.40" y1="82.40" x2="549.60" y2="82.40" stroke="#a2a2a2" stroke-width="0.8" />
<text x="543.20" y="85.35" font-family="Liberation Sans, sans-serif" font-size="8.7" text-anchor="end" font-weight="normal" font-style="normal" fill="#2b2b2b" textLength="9.1" lengthAdjust="spacingAndGlyphs" >90</text>
<line x1="549.60" y1="82.40" x2="609.80" y2="82.40" stroke="#a2a2a2" stroke-width="0.8" />
<line x1="549.60" y1="82.40" x2="549.60" y2="85.40" stroke="#a2a2a2" stroke-width="0.8" />
<text transform="translate(552.60,88.10) rotate(-90)" font-family="Liberation Sans, sans-serif" font-size="8.6" text-anchor="end" font-weight="normal" font-style="normal" fill="#2b2b2b" textLength="4.3" lengthAdjust="spacingAndGlyphs" >0</text>
<line x1="561.64" y1="82.40" x2="561.64" y2="85.40" stroke="#a2a2a2" stroke-width="0.8" />
<text transform="translate(564.64,88.10) rotate(-90)" font-family="Liberation Sans, sans-serif" font-size="8.6" text-anchor="end" font-weight="normal" font-style="normal" fill="#2b2b2b" textLength="8.4" lengthAdjust="spacingAndGlyphs" >80</text>
<line x1="573.68" y1="82.40" x2="573.68" y2="85.40" stroke="#a2a2a2" stroke-width="0.8" />
<text transform="translate(576.68,88.10) rotate(-90)" font-family="Liberation Sans, sans-serif" font-size="8.6" text-anchor="end" font-weight="normal" font-style="normal" fill="#2b2b2b" textLength="12.3" lengthAdjust="spacingAndGlyphs" >160</text>
<line x1="585.72" y1="82.40" x2="585.72" y2="85.40" stroke="#a2a2a2" stroke-width="0.8" />
<text transform="translate(588.72,88.10) rotate(-90)" font-family="Liberation Sans, sans-serif" font-size="8.6" text-anchor="end" font-weight="normal" font-style="normal" fill="#2b2b2b" textLength="13.6" lengthAdjust="spacingAndGlyphs" >240</text>
<line x1="597.76" y1="82.40" x2="597.76" y2="85.40" stroke="#a2a2a2" stroke-width="0.8" />
<text transform="translate(600.76,88.10) rotate(-90)" font-family="Liberation Sans, sans-serif" font-size="8.6" text-anchor="end" font-weight="normal" font-style="normal" fill="#2b2b2b" textLength="13.4" lengthAdjust="spacingAndGlyphs" >320</text>
<line x1="609.80" y1="82.40" x2="609.80" y2="85.40" stroke="#a2a2a2" stroke-width="0.8" />
<text transform="translate(612.80,88.10) rotate(-90)" font-family="Liberation Sans, sans-serif" font-size="8.6" text-anchor="end" font-weight="normal" font-style="normal" fill="#2b2b2b" textLength="13.8" lengthAdjust="spacingAndGlyphs" >400</text>
<text x="565.40" y="115.60" font-family="Liberation Sans, sans-serif" font-size="9.4" text-anchor="start" font-weight="normal" font-style="normal" fill="#2b2b2b" textLength="31.100000000000023" lengthAdjust="spacingAndGlyphs" >Time (s)</text>
<text x="565.90" y="14.60" font-family="Liberation Sans, sans-serif" font-size="9" text-anchor="start" font-weight="bold" font-style="italic" fill="#111" textLength="16.9" lengthAdjust="spacingAndGlyphs" stroke="#111" stroke-width="0.4">Ckb</text>
<text x="583.80" y="11.00" font-family="Liberation Sans, sans-serif" font-size="6.3" text-anchor="start" font-weight="bold" font-style="normal" fill="#111" textLength="12.4" lengthAdjust="spacingAndGlyphs" >fl/fl</text>
<text x="571.40" y="28.60" font-family="Liberation Sans, sans-serif" font-size="7.9" text-anchor="middle" font-weight="normal" font-style="normal" fill="#333" textLength="40.8" lengthAdjust="spacingAndGlyphs" >A61603 + Fsk</text>
<line x1="571.40" y1="30.30" x2="571.40" y2="32.40" stroke="#3c5069" stroke-width="1.3" />
<path d="M569.30,31.30 L573.50,31.30 L571.40,35.90 Z" fill="#3c5069"/>
<polyline points="549.80,36.50 551.82,36.94 553.84,37.14 555.86,37.48 557.88,37.94 559.90,38.25 561.92,38.56 563.94,38.93 565.96,39.37 567.98,39.61 570.00,40.00 572.00,40.73 574.00,41.32 576.00,42.19 578.00,42.74 580.00,43.50 582.00,44.74 584.00,46.14 586.00,47.43 588.00,48.74 590.00,50.00 592.00,51.71 594.00,53.58 596.00,55.35 598.00,57.15 600.00,59.00 602.50,62.96 605.00,67.00 607.00,70.93 609.00,74.86 611.00,78.80" fill="none" stroke="#d9d9d9" stroke-width="1.4" stroke-linejoin="round" stroke-linecap="round" />
<polyline points="549.80,37.00 551.97,37.42 554.14,37.68 556.31,38.08 558.49,38.26 560.66,38.80 562.83,39.04 565.00,39.40 567.00,39.75 569.00,39.95 571.00,40.27 573.00,40.57 575.00,41.00 577.50,42.55 580.00,44.00 582.00,45.17 584.00,46.10 586.00,47.34 588.00,48.42 590.00,49.50 592.00,50.61 594.00,51.69 596.00,52.76 598.00,53.97 600.00,55.10 602.20,56.58 604.40,57.86 606.60,59.23 608.80,60.77 611.00,62.10" fill="none" stroke="#58a2dd" stroke-width="1.3" stroke-linejoin="round" stroke-linecap="round" />
<line x1="551.70" y1="68.10" x2="559.10" y2="68.10" stroke="#d9d9d9" stroke-width="1.7" />
<text x="563.00" y="70.55" font-family="Liberation Sans, sans-serif" font-size="7.1" text-anchor="start" font-weight="normal" font-style="normal" fill="#333" textLength="21.5" lengthAdjust="spacingAndGlyphs" >Vehicle</text>
<line x1="551.70" y1="76.40" x2="559.10" y2="76.40" stroke="#58a2dd" stroke-width="1.7" />
<text x="563.00" y="78.85" font-family="Liberation Sans, sans-serif" font-size="7.1" text-anchor="start" font-weight="normal" font-style="normal" fill="#333" textLength="22.8" lengthAdjust="spacingAndGlyphs" >SBI-425</text>
<line x1="621.30" y1="18.40" x2="621.30" y2="82.40" stroke="#a2a2a2" stroke-width="0.8" />
<line x1="618.10" y1="18.40" x2="621.30" y2="18.40" stroke="#a2a2a2" stroke-width="0.8" />
<line x1="618.10" y1="39.73" x2="621.30" y2="39.73" stroke="#a2a2a2" stroke-width="0.8" />
<line x1="618.10" y1="61.07" x2="621.30" y2="61.07" stroke="#a2a2a2" stroke-width="0.8" />
<line x1="618.10" y1="82.40" x2="621.30" y2="82.40" stroke="#a2a2a2" stroke-width="0.8" />
<line x1="621.30" y1="82.40" x2="681.70" y2="82.40" stroke="#a2a2a2" stroke-width="0.8" />
<line x1="621.30" y1="82.40" x2="621.30" y2="85.40" stroke="#a2a2a2" stroke-width="0.8" />
<text transform="translate(624.30,88.10) rotate(-90)" font-family="Liberation Sans, sans-serif" font-size="8.6" text-anchor="end" font-weight="normal" font-style="normal" fill="#2b2b2b" textLength="4.3" lengthAdjust="spacingAndGlyphs" >0</text>
<line x1="633.38" y1="82.40" x2="633.38" y2="85.40" stroke="#a2a2a2" stroke-width="0.8" />
<text transform="translate(636.38,88.10) rotate(-90)" font-family="Liberation Sans, sans-serif" font-size="8.6" text-anchor="end" font-weight="normal" font-style="normal" fill="#2b2b2b" textLength="8.4" lengthAdjust="spacingAndGlyphs" >80</text>
<line x1="645.46" y1="82.40" x2="645.46" y2="85.40" stroke="#a2a2a2" stroke-width="0.8" />
<text transform="translate(648.46,88.10) rotate(-90)" font-family="Liberation Sans, sans-serif" font-size="8.6" text-anchor="end" font-weight="normal" font-style="normal" fill="#2b2b2b" textLength="12.3" lengthAdjust="spacingAndGlyphs" >160</text>
<line x1="657.54" y1="82.40" x2="657.54" y2="85.40" stroke="#a2a2a2" stroke-width="0.8" />
<text transform="translate(660.54,88.10) rotate(-90)" font-family="Liberation Sans, sans-serif" font-size="8.6" text-anchor="end" font-weight="normal" font-style="normal" fill="#2b2b2b" textLength="13.6" lengthAdjust="spacingAndGlyphs" >240</text>
<line x1="669.62" y1="82.40" x2="669.62" y2="85.40" stroke="#a2a2a2" stroke-width="0.8" />
<text transform="translate(672.62,88.10) rotate(-90)" font-family="Liberation Sans, sans-serif" font-size="8.6" text-anchor="end" font-weight="normal" font-style="normal" fill="#2b2b2b" textLength="13.4" lengthAdjust="spacingAndGlyphs" >320</text>
<line x1="681.70" y1="82.40" x2="681.70" y2="85.40" stroke="#a2a2a2" stroke-width="0.8" />
<text transform="translate(684.70,88.10) rotate(-90)" font-family="Liberation Sans, sans-serif" font-size="8.6" text-anchor="end" font-weight="normal" font-style="normal" fill="#2b2b2b" textLength="13.8" lengthAdjust="spacingAndGlyphs" >400</text>
<text x="638.00" y="115.60" font-family="Liberation Sans, sans-serif" font-size="9.4" text-anchor="start" font-weight="normal" font-style="normal" fill="#2b2b2b" textLength="30.700000000000045" lengthAdjust="spacingAndGlyphs" >Time (s)</text>
<text x="626.30" y="14.60" font-family="Liberation Sans, sans-serif" font-size="9" text-anchor="start" font-weight="bold" font-style="italic" fill="#111" textLength="16.9" lengthAdjust="spacingAndGlyphs" stroke="#111" stroke-width="0.4">Ckb</text>
<text x="644.20" y="11.00" font-family="Liberation Sans, sans-serif" font-size="6.3" text-anchor="start" font-weight="bold" font-style="normal" fill="#111" textLength="35.1" lengthAdjust="spacingAndGlyphs" >AdipoqCre</text>
<text x="642.90" y="28.60" font-family="Liberation Sans, sans-serif" font-size="7.9" text-anchor="middle" font-weight="normal" font-style="normal" fill="#333" textLength="40.3" lengthAdjust="spacingAndGlyphs" >A61603 + Fsk</text>
<line x1="642.90" y1="30.30" x2="642.90" y2="32.20" stroke="#3c5069" stroke-width="1.3" />
<path d="M640.80,31.10 L645.00,31.10 L642.90,35.70 Z" fill="#3c5069"/>
<polyline points="621.50,36.00 623.56,36.35 625.61,36.80 627.67,37.14 629.72,37.63 631.78,37.92 633.83,38.38 635.89,38.73 637.94,39.19 640.00,39.50 642.00,40.17 644.00,40.69 646.00,41.26 648.00,41.80 650.50,40.00 653.00,42.50 655.00,43.16 657.00,43.80 659.00,44.48 661.00,45.20 663.00,45.92 665.00,46.50 667.00,47.15 669.00,47.78 671.00,48.34 673.00,48.88 675.00,49.56 677.00,50.25 679.00,50.75 681.00,51.49 683.00,52.00" fill="none" stroke="#d9d9d9" stroke-width="1.4" stroke-linejoin="round" stroke-linecap="round" />
<polyline points="621.50,36.30 623.56,36.65 625.61,37.17 627.67,37.47 629.72,37.82 631.78,38.34 633.83,38.62 635.89,38.92 637.94,39.47 640.00,39.80 642.00,40.49 644.00,40.98 646.00,41.73 648.00,42.30 650.50,40.20 653.00,42.80 655.00,43.40 657.00,44.17 659.00,44.80 661.00,45.40 663.00,46.04 665.00,46.80 667.00,47.53 669.00,48.19 671.00,48.91 673.00,49.42 675.00,50.22 677.00,50.94 679.00,51.48 681.00,52.28 683.00,52.90" fill="none" stroke="#58a2dd" stroke-width="1.3" stroke-linejoin="round" stroke-linecap="round" />
<line x1="624.30" y1="68.10" x2="631.70" y2="68.10" stroke="#d9d9d9" stroke-width="1.7" />
<text x="635.70" y="70.55" font-family="Liberation Sans, sans-serif" font-size="7.1" text-anchor="start" font-weight="normal" font-style="normal" fill="#333" textLength="21.5" lengthAdjust="spacingAndGlyphs" >Vehicle</text>
<line x1="624.30" y1="76.40" x2="631.70" y2="76.40" stroke="#58a2dd" stroke-width="1.7" />
<text x="635.70" y="78.85" font-family="Liberation Sans, sans-serif" font-size="7.1" text-anchor="start" font-weight="normal" font-style="normal" fill="#333" textLength="22.8" lengthAdjust="spacingAndGlyphs" >SBI-425</text>
<text x="138.20" y="140.30" font-family="Liberation Sans, sans-serif" font-size="12.2" text-anchor="start" font-weight="bold" font-style="normal" fill="#111" textLength="6.5" lengthAdjust="spacingAndGlyphs" stroke="#111" stroke-width="0.5">c</text>
<text transform="translate(145.00,204.30) rotate(-90)" font-family="Liberation Sans, sans-serif" font-size="7" text-anchor="middle" font-weight="normal" font-style="normal" fill="#222" textLength="64.5" lengthAdjust="spacingAndGlyphs" >Drug-stimulated</text>
<text transform="translate(153.30,204.30) rotate(-90)" font-family="Liberation Sans, sans-serif" font-size="7" text-anchor="middle" font-weight="normal" font-style="normal" fill="#222" textLength="81.6" lengthAdjust="spacingAndGlyphs" >O<tspan font-size="4.6" dy="1.8">2</tspan><tspan dy="-1.8"> consumption rate</tspan></text>
<text transform="translate(163.60,204.30) rotate(-90)" font-family="Liberation Sans, sans-serif" font-size="7" text-anchor="middle" font-weight="normal" font-style="normal" fill="#222" textLength="84.5" lengthAdjust="spacingAndGlyphs" >(nmol min<tspan font-size="4.6" dy="-2.6">−1</tspan><tspan dy="2.6"> 10</tspan><tspan font-size="4.6" dy="-2.6">6</tspan><tspan dy="2.6"> cells)</tspan></text>
<line x1="191.30" y1="156.50" x2="191.30" y2="252.00" stroke="#a2a2a2" stroke-width="0.8" />
<line x1="188.70" y1="252.00" x2="191.30" y2="252.00" stroke="#a2a2a2" stroke-width="0.8" />
<text x="185.90" y="255.48" font-family="Liberation Sans, sans-serif" font-size="8.7" text-anchor="end" font-weight="normal" font-style="normal" fill="#2b2b2b" textLength="4.2" lengthAdjust="spacingAndGlyphs" >0</text>
<line x1="188.70" y1="220.17" x2="191.30" y2="220.17" stroke="#a2a2a2" stroke-width="0.8" />
<text x="185.90" y="223.65" font-family="Liberation Sans, sans-serif" font-size="8.7" text-anchor="end" font-weight="normal" font-style="normal" fill="#2b2b2b" textLength="8.3" lengthAdjust="spacingAndGlyphs" >90</text>
<line x1="188.70" y1="188.33" x2="191.30" y2="188.33" stroke="#a2a2a2" stroke-width="0.8" />
<text x="185.90" y="191.81" font-family="Liberation Sans, sans-serif" font-size="8.7" text-anchor="end" font-weight="normal" font-style="normal" fill="#2b2b2b" textLength="12.6" lengthAdjust="spacingAndGlyphs" >180</text>
<line x1="188.70" y1="156.50" x2="191.30" y2="156.50" stroke="#a2a2a2" stroke-width="0.8" />
<text x="185.90" y="159.98" font-family="Liberation Sans, sans-serif" font-size="8.7" text-anchor="end" font-weight="normal" font-style="normal" fill="#2b2b2b" textLength="12.6" lengthAdjust="spacingAndGlyphs" >270</text>
<line x1="191.30" y1="252.00" x2="287.00" y2="252.00" stroke="#a0a0a0" stroke-width="0.8" />
<rect x="195.60" y="200.00" width="6.50" height="52.00" fill="#dcdcdc"/>
<line x1="198.85" y1="191.30" x2="198.85" y2="208.70" stroke="#444" stroke-width="0.7" />
<line x1="196.85" y1="191.30" x2="200.85" y2="191.30" stroke="#444" stroke-width="0.7" />
<rect x="216.70" y="229.20" width="6.20" height="22.80" fill="#68a8dd"/>
<line x1="219.80" y1="224.70" x2="219.80" y2="233.70" stroke="#444" stroke-width="0.7" />
<line x1="217.80" y1="224.70" x2="221.80" y2="224.70" stroke="#444" stroke-width="0.7" />
<rect x="227.10" y="210.00" width="6.70" height="42.00" fill="#ef6f78"/>
<line x1="230.45" y1="203.10" x2="230.45" y2="216.90" stroke="#444" stroke-width="0.7" />
<line x1="228.45" y1="203.10" x2="232.45" y2="203.10" stroke="#444" stroke-width="0.7" />
<rect x="245.10" y="221.00" width="6.30" height="31.00" fill="#dcdcdc"/>
<line x1="248.25" y1="215.70" x2="248.25" y2="226.30" stroke="#444" stroke-width="0.7" />
<line x1="246.25" y1="215.70" x2="250.25" y2="215.70" stroke="#444" stroke-width="0.7" />
<rect x="266.10" y="228.00" width="6.40" height="24.00" fill="#68a8dd"/>
<line x1="269.30" y1="220.60" x2="269.30" y2="235.40" stroke="#444" stroke-width="0.7" />
<line x1="267.30" y1="220.60" x2="271.30" y2="220.60" stroke="#444" stroke-width="0.7" />
<rect x="276.80" y="226.00" width="6.20" height="26.00" fill="#ef6f78"/>
<line x1="279.90" y1="220.60" x2="279.90" y2="231.40" stroke="#444" stroke-width="0.7" />
<line x1="277.90" y1="220.60" x2="281.90" y2="220.60" stroke="#444" stroke-width="0.7" />
<circle cx="198.70" cy="162.70" r="1.8" fill="#111"/>
<circle cx="198.70" cy="179.70" r="1.8" fill="#111"/>
<circle cx="198.70" cy="195.10" r="1.8" fill="#111"/>
<circle cx="196.70" cy="210.90" r="1.8" fill="#111"/>
<circle cx="200.40" cy="210.40" r="1.8" fill="#111"/>
<circle cx="200.40" cy="213.40" r="1.8" fill="#111"/>
<circle cx="198.40" cy="222.60" r="1.8" fill="#111"/>
<circle cx="207.90" cy="248.80" r="1.8" fill="#111"/>
<circle cx="207.00" cy="251.00" r="1.8" fill="#111"/>
<circle cx="210.00" cy="251.00" r="1.8" fill="#111"/>
<circle cx="219.60" cy="211.60" r="1.8" fill="#111"/>
<circle cx="219.60" cy="220.90" r="1.8" fill="#111"/>
<circle cx="219.60" cy="223.40" r="1.8" fill="#111"/>
<circle cx="221.80" cy="231.80" r="1.8" fill="#111"/>
<circle cx="217.90" cy="232.60" r="1.8" fill="#111"/>
<circle cx="221.90" cy="239.20" r="1.8" fill="#111"/>
<circle cx="218.00" cy="241.10" r="1.8" fill="#111"/>
<circle cx="230.50" cy="172.50" r="1.8" fill="#111"/>
<circle cx="230.50" cy="199.30" r="1.8" fill="#111"/>
<circle cx="228.50" cy="216.40" r="1.8" fill="#111"/>
<circle cx="230.80" cy="215.90" r="1.8" fill="#111"/>
<circle cx="233.00" cy="217.50" r="1.8" fill="#111"/>
<circle cx="230.80" cy="221.20" r="1.8" fill="#111"/>
<circle cx="230.80" cy="225.60" r="1.8" fill="#111"/>
<circle cx="248.00" cy="203.10" r="1.8" fill="#111"/>
<circle cx="248.00" cy="209.20" r="1.8" fill="#111"/>
<circle cx="246.00" cy="225.00" r="1.8" fill="#111"/>
<circle cx="248.00" cy="225.70" r="1.8" fill="#111"/>
<circle cx="250.00" cy="225.00" r="1.8" fill="#111"/>
<circle cx="248.70" cy="226.40" r="1.8" fill="#111"/>
<circle cx="248.30" cy="232.00" r="1.8" fill="#111"/>
<circle cx="256.10" cy="251.20" r="1.8" fill="#111"/>
<circle cx="259.00" cy="249.90" r="1.8" fill="#111"/>
<circle cx="260.80" cy="251.20" r="1.8" fill="#111"/>
<circle cx="269.30" cy="195.00" r="1.8" fill="#111"/>
<circle cx="269.30" cy="228.40" r="1.8" fill="#111"/>
<circle cx="269.30" cy="232.60" r="1.8" fill="#111"/>
<circle cx="267.40" cy="236.40" r="1.8" fill="#111"/>
<circle cx="269.30" cy="236.40" r="1.8" fill="#111"/>
<circle cx="271.10" cy="236.40" r="1.8" fill="#111"/>
<circle cx="279.80" cy="195.50" r="1.8" fill="#111"/>
<circle cx="279.40" cy="221.00" r="1.8" fill="#111"/>
<circle cx="279.40" cy="231.70" r="1.8" fill="#111"/>
<circle cx="281.40" cy="234.40" r="1.8" fill="#111"/>
<circle cx="278.10" cy="236.40" r="1.8" fill="#111"/>
<circle cx="280.10" cy="235.00" r="1.8" fill="#111"/>
<path d="M199.30,146.60 L199.30,144.80 L248.50,144.80 L248.50,146.60" fill="none" stroke="#333" stroke-width="1.1"/>
<text x="209.90" y="142.70" font-family="Liberation Sans, sans-serif" font-size="7.1" text-anchor="start" font-weight="normal" font-style="normal" fill="#333" textLength="27.8" lengthAdjust="spacingAndGlyphs" ><tspan font-style="italic">P</tspan> = 0.019</text>
<path d="M199.30,157.60 L199.30,155.80 L231.50,155.80 L231.50,157.60" fill="none" stroke="#333" stroke-width="1.1"/>
<text x="203.90" y="153.80" font-family="Liberation Sans, sans-serif" font-size="7.1" text-anchor="start" font-weight="normal" font-style="normal" fill="#333" textLength="22.7" lengthAdjust="spacingAndGlyphs" ><tspan font-style="italic">P</tspan> = 0.21</text>
<path d="M219.80,168.50 L219.80,166.70 L230.90,166.70 L230.90,168.50" fill="none" stroke="#333" stroke-width="1.1"/>
<text x="208.40" y="164.60" font-family="Liberation Sans, sans-serif" font-size="7.1" text-anchor="start" font-weight="normal" font-style="normal" fill="#333" textLength="27.4" lengthAdjust="spacingAndGlyphs" ><tspan font-style="italic">P</tspan> = 0.027</text>
<path d="M247.40,166.40 L247.40,164.60 L280.10,164.60 L280.10,166.40" fill="none" stroke="#333" stroke-width="1.1"/>
<text x="251.00" y="162.60" font-family="Liberation Sans, sans-serif" font-size="7.1" text-anchor="start" font-weight="normal" font-style="normal" fill="#333" textLength="24.4" lengthAdjust="spacingAndGlyphs" ><tspan font-style="italic">P</tspan> = 0.55</text>
<path d="M268.10,178.50 L268.10,176.70 L279.80,176.70 L279.80,178.50" fill="none" stroke="#333" stroke-width="1.1"/>
<text x="256.70" y="174.40" font-family="Liberation Sans, sans-serif" font-size="7.1" text-anchor="start" font-weight="normal" font-style="normal" fill="#333" textLength="24.5" lengthAdjust="spacingAndGlyphs" ><tspan font-style="italic">P</tspan> = 0.84</text>
<path d="M247.40,189.70 L247.40,187.90 L269.40,187.90 L269.40,189.70" fill="none" stroke="#333" stroke-width="1.1"/>
<text x="246.40" y="185.50" font-family="Liberation Sans, sans-serif" font-size="7.1" text-anchor="start" font-weight="normal" font-style="normal" fill="#333" textLength="24.6" lengthAdjust="spacingAndGlyphs" ><tspan font-style="italic">P</tspan> = 0.42</text>
<text transform="translate(212.60,247.00) rotate(-90)" font-family="Liberation Sans, sans-serif" font-size="7.1" text-anchor="start" font-weight="normal" font-style="normal" fill="#333" textLength="33.5" lengthAdjust="spacingAndGlyphs" ><tspan font-style="italic">P</tspan> = 2 × 10<tspan font-size="4.7" dy="-2.6">−3</tspan></text>
<text transform="translate(221.60,208.80) rotate(-90)" font-family="Liberation Sans, sans-serif" font-size="7.1" text-anchor="start" font-weight="normal" font-style="normal" fill="#333" textLength="31.3" lengthAdjust="spacingAndGlyphs" ><tspan font-style="italic">P</tspan> = 1 × 10<tspan font-size="4.7" dy="-2.6">−3</tspan></text>
<text transform="translate(261.30,246.00) rotate(-90)" font-family="Liberation Sans, sans-serif" font-size="7.1" text-anchor="start" font-weight="normal" font-style="normal" fill="#333" textLength="32.0" lengthAdjust="spacingAndGlyphs" ><tspan font-style="italic">P</tspan> = 6 × 10<tspan font-size="4.7" dy="-2.6">−3</tspan></text>
<text x="192.40" y="263.10" font-family="Liberation Sans, sans-serif" font-size="8.3" text-anchor="end" font-weight="normal" font-style="normal" fill="#222" textLength="14.6" lengthAdjust="spacingAndGlyphs" >NA:</text>
<text x="192.40" y="272.70" font-family="Liberation Sans, sans-serif" font-size="8.3" text-anchor="end" font-weight="normal" font-style="normal" fill="#222" textLength="22.5" lengthAdjust="spacingAndGlyphs" >Ciraz:</text>
<text x="192.40" y="282.10" font-family="Liberation Sans, sans-serif" font-size="8.3" text-anchor="end" font-weight="normal" font-style="normal" fill="#222" textLength="15.7" lengthAdjust="spacingAndGlyphs" >Fsk:</text>
<line x1="196.60" y1="260.70" x2="200.40" y2="260.70" stroke="#222" stroke-width="0.8" />
<line x1="198.50" y1="258.80" x2="198.50" y2="262.60" stroke="#222" stroke-width="0.8" />
<line x1="207.30" y1="260.70" x2="211.10" y2="260.70" stroke="#222" stroke-width="0.8" />
<line x1="217.80" y1="260.70" x2="221.60" y2="260.70" stroke="#222" stroke-width="0.8" />
<line x1="228.50" y1="260.70" x2="232.30" y2="260.70" stroke="#222" stroke-width="0.8" />
<line x1="246.30" y1="260.70" x2="250.10" y2="260.70" stroke="#222" stroke-width="0.8" />
<line x1="248.20" y1="258.80" x2="248.20" y2="262.60" stroke="#222" stroke-width="0.8" />
<line x1="256.90" y1="260.70" x2="260.70" y2="260.70" stroke="#222" stroke-width="0.8" />
<line x1="267.30" y1="260.70" x2="271.10" y2="260.70" stroke="#222" stroke-width="0.8" />
<line x1="277.70" y1="260.70" x2="281.50" y2="260.70" stroke="#222" stroke-width="0.8" />
<line x1="196.60" y1="270.30" x2="200.40" y2="270.30" stroke="#222" stroke-width="0.8" />
<line x1="207.30" y1="270.30" x2="211.10" y2="270.30" stroke="#222" stroke-width="0.8" />
<line x1="209.20" y1="268.40" x2="209.20" y2="272.20" stroke="#222" stroke-width="0.8" />
<line x1="217.80" y1="270.30" x2="221.60" y2="270.30" stroke="#222" stroke-width="0.8" />
<line x1="228.50" y1="270.30" x2="232.30" y2="270.30" stroke="#222" stroke-width="0.8" />
<line x1="230.40" y1="268.40" x2="230.40" y2="272.20" stroke="#222" stroke-width="0.8" />
<line x1="246.30" y1="270.30" x2="250.10" y2="270.30" stroke="#222" stroke-width="0.8" />
<line x1="256.90" y1="270.30" x2="260.70" y2="270.30" stroke="#222" stroke-width="0.8" />
<line x1="258.80" y1="268.40" x2="258.80" y2="272.20" stroke="#222" stroke-width="0.8" />
<line x1="267.30" y1="270.30" x2="271.10" y2="270.30" stroke="#222" stroke-width="0.8" />
<line x1="277.70" y1="270.30" x2="281.50" y2="270.30" stroke="#222" stroke-width="0.8" />
<line x1="279.60" y1="268.40" x2="279.60" y2="272.20" stroke="#222" stroke-width="0.8" />
<line x1="196.60" y1="279.70" x2="200.40" y2="279.70" stroke="#222" stroke-width="0.8" />
<line x1="207.30" y1="279.70" x2="211.10" y2="279.70" stroke="#222" stroke-width="0.8" />
<line x1="217.80" y1="279.70" x2="221.60" y2="279.70" stroke="#222" stroke-width="0.8" />
<line x1="219.70" y1="277.80" x2="219.70" y2="281.60" stroke="#222" stroke-width="0.8" />
<line x1="228.50" y1="279.70" x2="232.30" y2="279.70" stroke="#222" stroke-width="0.8" />
<line x1="230.40" y1="277.80" x2="230.40" y2="281.60" stroke="#222" stroke-width="0.8" />
<line x1="246.30" y1="279.70" x2="250.10" y2="279.70" stroke="#222" stroke-width="0.8" />
<line x1="256.90" y1="279.70" x2="260.70" y2="279.70" stroke="#222" stroke-width="0.8" />
<line x1="267.30" y1="279.70" x2="271.10" y2="279.70" stroke="#222" stroke-width="0.8" />
<line x1="269.20" y1="277.80" x2="269.20" y2="281.60" stroke="#222" stroke-width="0.8" />
<line x1="277.70" y1="279.70" x2="281.50" y2="279.70" stroke="#222" stroke-width="0.8" />
<line x1="279.60" y1="277.80" x2="279.60" y2="281.60" stroke="#222" stroke-width="0.8" />
<line x1="194.90" y1="285.50" x2="234.70" y2="285.50" stroke="#222" stroke-width="1.3" />
<line x1="245.00" y1="285.50" x2="284.70" y2="285.50" stroke="#222" stroke-width="1.3" />
<text x="201.70" y="299.30" font-family="Liberation Sans, sans-serif" font-size="9.0" text-anchor="start" font-weight="normal" font-style="italic" fill="#222" textLength="15.0" lengthAdjust="spacingAndGlyphs" >Ckb</text>
<text x="217.50" y="294.40" font-family="Liberation Sans, sans-serif" font-size="6.4" text-anchor="start" font-weight="normal" font-style="normal" fill="#222" textLength="9.4" lengthAdjust="spacingAndGlyphs" >fl/fl</text>
<text x="242.60" y="299.30" font-family="Liberation Sans, sans-serif" font-size="9.0" text-anchor="start" font-weight="normal" font-style="italic" fill="#222" textLength="15.0" lengthAdjust="spacingAndGlyphs" >Ckb</text>
<text x="258.40" y="294.40" font-family="Liberation Sans, sans-serif" font-size="6.4" text-anchor="start" font-weight="normal" font-style="normal" fill="#222" textLength="29.6" lengthAdjust="spacingAndGlyphs" >AdipoqCre</text>
<text x="327.20" y="140.30" font-family="Liberation Sans, sans-serif" font-size="12.2" text-anchor="start" font-weight="bold" font-style="normal" fill="#111" textLength="6.7" lengthAdjust="spacingAndGlyphs" stroke="#111" stroke-width="0.5">e</text>
<text transform="translate(334.90,204.30) rotate(-90)" font-family="Liberation Sans, sans-serif" font-size="7" text-anchor="middle" font-weight="normal" font-style="normal" fill="#222" textLength="64.5" lengthAdjust="spacingAndGlyphs" >Drug-stimulated</text>
<text transform="translate(344.40,204.30) rotate(-90)" font-family="Liberation Sans, sans-serif" font-size="7" text-anchor="middle" font-weight="normal" font-style="normal" fill="#222" textLength="81.6" lengthAdjust="spacingAndGlyphs" >O<tspan font-size="4.6" dy="1.8">2</tspan><tspan dy="-1.8"> consumption rate</tspan></text>
<text transform="translate(354.30,204.30) rotate(-90)" font-family="Liberation Sans, sans-serif" font-size="7" text-anchor="middle" font-weight="normal" font-style="normal" fill="#222" textLength="84.5" lengthAdjust="spacingAndGlyphs" >(nmol min<tspan font-size="4.6" dy="-2.6">−1</tspan><tspan dy="2.6"> 10</tspan><tspan font-size="4.6" dy="-2.6">6</tspan><tspan dy="2.6"> cells)</tspan></text>
<line x1="382.30" y1="157.30" x2="382.30" y2="252.40" stroke="#a2a2a2" stroke-width="0.8" />
<line x1="379.70" y1="252.40" x2="382.30" y2="252.40" stroke="#a2a2a2" stroke-width="0.8" />
<text x="376.10" y="255.88" font-family="Liberation Sans, sans-serif" font-size="8.7" text-anchor="end" font-weight="normal" font-style="normal" fill="#2b2b2b" textLength="4.1" lengthAdjust="spacingAndGlyphs" >0</text>
<line x1="379.70" y1="220.70" x2="382.30" y2="220.70" stroke="#a2a2a2" stroke-width="0.8" />
<text x="376.10" y="224.18" font-family="Liberation Sans, sans-serif" font-size="8.7" text-anchor="end" font-weight="normal" font-style="normal" fill="#2b2b2b" textLength="8.0" lengthAdjust="spacingAndGlyphs" >90</text>
<line x1="379.70" y1="189.00" x2="382.30" y2="189.00" stroke="#a2a2a2" stroke-width="0.8" />
<text x="376.10" y="192.48" font-family="Liberation Sans, sans-serif" font-size="8.7" text-anchor="end" font-weight="normal" font-style="normal" fill="#2b2b2b" textLength="12.1" lengthAdjust="spacingAndGlyphs" >180</text>
<line x1="379.70" y1="157.30" x2="382.30" y2="157.30" stroke="#a2a2a2" stroke-width="0.8" />
<text x="376.10" y="160.78" font-family="Liberation Sans, sans-serif" font-size="8.7" text-anchor="end" font-weight="normal" font-style="normal" fill="#2b2b2b" textLength="12.1" lengthAdjust="spacingAndGlyphs" >270</text>
<line x1="382.30" y1="252.40" x2="477.70" y2="252.40" stroke="#a0a0a0" stroke-width="0.8" />
<rect x="386.90" y="200.90" width="6.10" height="51.50" fill="#dcdcdc"/>
<line x1="389.95" y1="194.30" x2="389.95" y2="207.50" stroke="#444" stroke-width="0.7" />
<line x1="387.95" y1="194.30" x2="391.95" y2="194.30" stroke="#444" stroke-width="0.7" />
<rect x="407.80" y="231.80" width="6.40" height="20.60" fill="#68a8dd"/>
<line x1="411.00" y1="228.30" x2="411.00" y2="235.30" stroke="#444" stroke-width="0.7" />
<line x1="409.00" y1="228.30" x2="413.00" y2="228.30" stroke="#444" stroke-width="0.7" />
<rect x="418.10" y="210.30" width="6.70" height="42.10" fill="#ef6f78"/>
<line x1="421.45" y1="202.50" x2="421.45" y2="218.10" stroke="#444" stroke-width="0.7" />
<line x1="419.45" y1="202.50" x2="423.45" y2="202.50" stroke="#444" stroke-width="0.7" />
<rect x="436.20" y="220.10" width="5.90" height="32.30" fill="#dcdcdc"/>
<line x1="439.15" y1="213.00" x2="439.15" y2="227.20" stroke="#444" stroke-width="0.7" />
<line x1="437.15" y1="213.00" x2="441.15" y2="213.00" stroke="#444" stroke-width="0.7" />
<rect x="457.00" y="231.50" width="6.50" height="20.90" fill="#68a8dd"/>
<line x1="460.25" y1="229.00" x2="460.25" y2="234.00" stroke="#444" stroke-width="0.7" />
<line x1="458.25" y1="229.00" x2="462.25" y2="229.00" stroke="#444" stroke-width="0.7" />
<rect x="467.60" y="225.90" width="6.50" height="26.50" fill="#ef6f78"/>
<line x1="470.85" y1="222.00" x2="470.85" y2="229.80" stroke="#444" stroke-width="0.7" />
<line x1="468.85" y1="222.00" x2="472.85" y2="222.00" stroke="#444" stroke-width="0.7" />
<circle cx="389.80" cy="176.50" r="1.8" fill="#111"/>
<circle cx="389.50" cy="194.80" r="1.8" fill="#111"/>
<circle cx="389.50" cy="203.20" r="1.8" fill="#111"/>
<circle cx="388.10" cy="214.20" r="1.8" fill="#111"/>
<circle cx="391.90" cy="213.50" r="1.8" fill="#111"/>
<circle cx="400.50" cy="249.30" r="1.8" fill="#111"/>
<circle cx="409.20" cy="224.30" r="1.8" fill="#111"/>
<circle cx="412.20" cy="222.40" r="1.8" fill="#111"/>
<circle cx="409.00" cy="236.00" r="1.8" fill="#111"/>
<circle cx="409.00" cy="238.90" r="1.8" fill="#111"/>
<circle cx="412.90" cy="238.90" r="1.8" fill="#111"/>
<circle cx="419.20" cy="193.20" r="1.8" fill="#111"/>
<circle cx="423.90" cy="195.50" r="1.8" fill="#111"/>
<circle cx="419.20" cy="215.40" r="1.8" fill="#111"/>
<circle cx="423.20" cy="215.40" r="1.8" fill="#111"/>
<circle cx="421.60" cy="229.00" r="1.8" fill="#111"/>
<circle cx="437.00" cy="207.20" r="1.8" fill="#111"/>
<circle cx="441.20" cy="208.80" r="1.8" fill="#111"/>
<circle cx="439.40" cy="221.90" r="1.8" fill="#111"/>
<circle cx="437.00" cy="231.80" r="1.8" fill="#111"/>
<circle cx="441.70" cy="231.30" r="1.8" fill="#111"/>
<circle cx="447.70" cy="247.60" r="1.8" fill="#111"/>
<circle cx="451.60" cy="248.20" r="1.8" fill="#111"/>
<circle cx="449.50" cy="251.30" r="1.8" fill="#111"/>
<circle cx="450.40" cy="249.60" r="1.8" fill="#111"/>
<circle cx="460.40" cy="221.90" r="1.8" fill="#111"/>
<circle cx="458.50" cy="229.90" r="1.8" fill="#111"/>
<circle cx="460.40" cy="232.90" r="1.8" fill="#111"/>
<circle cx="460.30" cy="236.80" r="1.8" fill="#111"/>
<circle cx="471.60" cy="217.70" r="1.8" fill="#111"/>
<circle cx="469.30" cy="223.60" r="1.8" fill="#111"/>
<circle cx="473.30" cy="222.90" r="1.8" fill="#111"/>
<circle cx="470.20" cy="225.90" r="1.8" fill="#111"/>
<circle cx="470.90" cy="234.10" r="1.8" fill="#111"/>
<path d="M389.10,154.50 L389.10,152.70 L439.30,152.70 L439.30,154.50" fill="none" stroke="#333" stroke-width="1.1"/>
<text x="394.80" y="149.30" font-family="Liberation Sans, sans-serif" font-size="7.1" text-anchor="start" font-weight="normal" font-style="normal" fill="#333" textLength="39.2" lengthAdjust="spacingAndGlyphs" ><tspan font-style="italic">P</tspan> = 9.8 × 10<tspan font-size="4.7" dy="-2.6">−3</tspan></text>
<path d="M389.10,165.80 L389.10,164.00 L420.70,164.00 L420.70,165.80" fill="none" stroke="#333" stroke-width="1.1"/>
<text x="392.60" y="160.90" font-family="Liberation Sans, sans-serif" font-size="7.1" text-anchor="start" font-weight="normal" font-style="normal" fill="#333" textLength="23.9" lengthAdjust="spacingAndGlyphs" ><tspan font-style="italic">P</tspan> = 0.18</text>
<path d="M410.40,177.90 L410.40,176.10 L421.30,176.10 L421.30,177.90" fill="none" stroke="#333" stroke-width="1.1"/>
<text x="394.80" y="172.80" font-family="Liberation Sans, sans-serif" font-size="7.1" text-anchor="start" font-weight="normal" font-style="normal" fill="#333" textLength="32.6" lengthAdjust="spacingAndGlyphs" ><tspan font-style="italic">P</tspan> = 3 × 10<tspan font-size="4.7" dy="-2.6">−3</tspan></text>
<path d="M438.70,177.90 L438.70,176.10 L470.90,176.10 L470.90,177.90" fill="none" stroke="#333" stroke-width="1.1"/>
<text x="442.60" y="172.80" font-family="Liberation Sans, sans-serif" font-size="7.1" text-anchor="start" font-weight="normal" font-style="normal" fill="#333" textLength="24.4" lengthAdjust="spacingAndGlyphs" ><tspan font-style="italic">P</tspan> = 0.42</text>
<path d="M459.20,188.70 L459.20,186.90 L470.90,186.90 L470.90,188.70" fill="none" stroke="#333" stroke-width="1.1"/>
<text x="446.30" y="184.00" font-family="Liberation Sans, sans-serif" font-size="7.1" text-anchor="start" font-weight="normal" font-style="normal" fill="#333" textLength="24.6" lengthAdjust="spacingAndGlyphs" ><tspan font-style="italic">P</tspan> = 0.39</text>
<text transform="translate(411.90,217.70) rotate(-90)" font-family="Liberation Sans, sans-serif" font-size="7.1" text-anchor="start" font-weight="normal" font-style="normal" fill="#333" textLength="32.4" lengthAdjust="spacingAndGlyphs" ><tspan font-style="italic">P</tspan> = 9 × 10<tspan font-size="4.7" dy="-2.6">−3</tspan></text>
<text transform="translate(462.40,218.90) rotate(-90)" font-family="Liberation Sans, sans-serif" font-size="7.1" text-anchor="start" font-weight="normal" font-style="normal" fill="#333" textLength="19.9" lengthAdjust="spacingAndGlyphs" ><tspan font-style="italic">P</tspan> = 0.1</text>
<text x="381.30" y="263.10" font-family="Liberation Sans, sans-serif" font-size="8.3" text-anchor="end" font-weight="normal" font-style="normal" fill="#222" textLength="14.6" lengthAdjust="spacingAndGlyphs" >NA:</text>
<text x="381.30" y="272.70" font-family="Liberation Sans, sans-serif" font-size="8.3" text-anchor="end" font-weight="normal" font-style="normal" fill="#222" textLength="32.8" lengthAdjust="spacingAndGlyphs" >A61603:</text>
<text x="381.30" y="282.10" font-family="Liberation Sans, sans-serif" font-size="8.3" text-anchor="end" font-weight="normal" font-style="normal" fill="#222" textLength="15.7" lengthAdjust="spacingAndGlyphs" >Fsk:</text>
<line x1="387.70" y1="260.70" x2="391.50" y2="260.70" stroke="#222" stroke-width="0.8" />
<line x1="389.60" y1="258.80" x2="389.60" y2="262.60" stroke="#222" stroke-width="0.8" />
<line x1="398.10" y1="260.70" x2="401.90" y2="260.70" stroke="#222" stroke-width="0.8" />
<line x1="408.90" y1="260.70" x2="412.70" y2="260.70" stroke="#222" stroke-width="0.8" />
<line x1="419.80" y1="260.70" x2="423.60" y2="260.70" stroke="#222" stroke-width="0.8" />
<line x1="437.30" y1="260.70" x2="441.10" y2="260.70" stroke="#222" stroke-width="0.8" />
<line x1="439.20" y1="258.80" x2="439.20" y2="262.60" stroke="#222" stroke-width="0.8" />
<line x1="447.70" y1="260.70" x2="451.50" y2="260.70" stroke="#222" stroke-width="0.8" />
<line x1="458.10" y1="260.70" x2="461.90" y2="260.70" stroke="#222" stroke-width="0.8" />
<line x1="468.90" y1="260.70" x2="472.70" y2="260.70" stroke="#222" stroke-width="0.8" />
<line x1="387.70" y1="270.30" x2="391.50" y2="270.30" stroke="#222" stroke-width="0.8" />
<line x1="398.10" y1="270.30" x2="401.90" y2="270.30" stroke="#222" stroke-width="0.8" />
<line x1="400.00" y1="268.40" x2="400.00" y2="272.20" stroke="#222" stroke-width="0.8" />
<line x1="408.90" y1="270.30" x2="412.70" y2="270.30" stroke="#222" stroke-width="0.8" />
<line x1="419.80" y1="270.30" x2="423.60" y2="270.30" stroke="#222" stroke-width="0.8" />
<line x1="421.70" y1="268.40" x2="421.70" y2="272.20" stroke="#222" stroke-width="0.8" />
<line x1="437.30" y1="270.30" x2="441.10" y2="270.30" stroke="#222" stroke-width="0.8" />
<line x1="447.70" y1="270.30" x2="451.50" y2="270.30" stroke="#222" stroke-width="0.8" />
<line x1="449.60" y1="268.40" x2="449.60" y2="272.20" stroke="#222" stroke-width="0.8" />
<line x1="458.10" y1="270.30" x2="461.90" y2="270.30" stroke="#222" stroke-width="0.8" />
<line x1="468.90" y1="270.30" x2="472.70" y2="270.30" stroke="#222" stroke-width="0.8" />
<line x1="470.80" y1="268.40" x2="470.80" y2="272.20" stroke="#222" stroke-width="0.8" />
<line x1="387.70" y1="279.70" x2="391.50" y2="279.70" stroke="#222" stroke-width="0.8" />
<line x1="398.10" y1="279.70" x2="401.90" y2="279.70" stroke="#222" stroke-width="0.8" />
<line x1="408.90" y1="279.70" x2="412.70" y2="279.70" stroke="#222" stroke-width="0.8" />
<line x1="410.80" y1="277.80" x2="410.80" y2="281.60" stroke="#222" stroke-width="0.8" />
<line x1="419.80" y1="279.70" x2="423.60" y2="279.70" stroke="#222" stroke-width="0.8" />
<line x1="421.70" y1="277.80" x2="421.70" y2="281.60" stroke="#222" stroke-width="0.8" />
<line x1="437.30" y1="279.70" x2="441.10" y2="279.70" stroke="#222" stroke-width="0.8" />
<line x1="447.70" y1="279.70" x2="451.50" y2="279.70" stroke="#222" stroke-width="0.8" />
<line x1="458.10" y1="279.70" x2="461.90" y2="279.70" stroke="#222" stroke-width="0.8" />
<line x1="460.00" y1="277.80" x2="460.00" y2="281.60" stroke="#222" stroke-width="0.8" />
<line x1="468.90" y1="279.70" x2="472.70" y2="279.70" stroke="#222" stroke-width="0.8" />
<line x1="470.80" y1="277.80" x2="470.80" y2="281.60" stroke="#222" stroke-width="0.8" />
<line x1="385.40" y1="285.50" x2="425.40" y2="285.50" stroke="#222" stroke-width="1.3" />
<line x1="436.20" y1="285.50" x2="475.40" y2="285.50" stroke="#222" stroke-width="1.3" />
<text x="392.80" y="299.30" font-family="Liberation Sans, sans-serif" font-size="9.0" text-anchor="start" font-weight="normal" font-style="italic" fill="#222" textLength="15.0" lengthAdjust="spacingAndGlyphs" >Ckb</text>
<text x="408.60" y="294.40" font-family="Liberation Sans, sans-serif" font-size="6.4" text-anchor="start" font-weight="normal" font-style="normal" fill="#222" textLength="9.4" lengthAdjust="spacingAndGlyphs" >fl/fl</text>
<text x="433.40" y="299.30" font-family="Liberation Sans, sans-serif" font-size="9.0" text-anchor="start" font-weight="normal" font-style="italic" fill="#222" textLength="15.0" lengthAdjust="spacingAndGlyphs" >Ckb</text>
<text x="449.20" y="294.40" font-family="Liberation Sans, sans-serif" font-size="6.4" text-anchor="start" font-weight="normal" font-style="normal" fill="#222" textLength="29.8" lengthAdjust="spacingAndGlyphs" >AdipoqCre</text>
<text x="527.20" y="140.30" font-family="Liberation Sans, sans-serif" font-size="12.2" text-anchor="start" font-weight="bold" font-style="normal" fill="#111" textLength="6.9" lengthAdjust="spacingAndGlyphs" stroke="#111" stroke-width="0.5">g</text>
<text transform="translate(533.60,207.60) rotate(-90)" font-family="Liberation Sans, sans-serif" font-size="7" text-anchor="middle" font-weight="normal" font-style="normal" fill="#222" textLength="98.0" lengthAdjust="spacingAndGlyphs" >Fsk + A61603-dependent</text>
<text transform="translate(544.00,207.60) rotate(-90)" font-family="Liberation Sans, sans-serif" font-size="7" text-anchor="middle" font-weight="normal" font-style="normal" fill="#222" textLength="83.3" lengthAdjust="spacingAndGlyphs" >O<tspan font-size="4.6" dy="1.8">2</tspan><tspan dy="-1.8"> consumption rate</tspan></text>
<text transform="translate(554.00,207.60) rotate(-90)" font-family="Liberation Sans, sans-serif" font-size="7" text-anchor="middle" font-weight="normal" font-style="normal" fill="#222" textLength="85.3" lengthAdjust="spacingAndGlyphs" >(nmol min<tspan font-size="4.6" dy="-2.6">−1</tspan><tspan dy="2.6"> 10</tspan><tspan font-size="4.6" dy="-2.6">6</tspan><tspan dy="2.6"> cells)</tspan></text>
<line x1="583.90" y1="163.20" x2="583.90" y2="252.30" stroke="#a2a2a2" stroke-width="0.8" />
<line x1="580.40" y1="252.30" x2="583.90" y2="252.30" stroke="#a2a2a2" stroke-width="0.8" />
<text x="577.30" y="255.86" font-family="Liberation Sans, sans-serif" font-size="8.9" text-anchor="end" font-weight="normal" font-style="normal" fill="#2b2b2b" textLength="4.4" lengthAdjust="spacingAndGlyphs" >0</text>
<line x1="580.40" y1="234.48" x2="583.90" y2="234.48" stroke="#a2a2a2" stroke-width="0.8" />
<text x="577.30" y="238.04" font-family="Liberation Sans, sans-serif" font-size="8.9" text-anchor="end" font-weight="normal" font-style="normal" fill="#2b2b2b" textLength="9.3" lengthAdjust="spacingAndGlyphs" >60</text>
<line x1="580.40" y1="216.66" x2="583.90" y2="216.66" stroke="#a2a2a2" stroke-width="0.8" />
<text x="577.30" y="220.22" font-family="Liberation Sans, sans-serif" font-size="8.9" text-anchor="end" font-weight="normal" font-style="normal" fill="#2b2b2b" textLength="13.5" lengthAdjust="spacingAndGlyphs" >120</text>
<line x1="580.40" y1="198.84" x2="583.90" y2="198.84" stroke="#a2a2a2" stroke-width="0.8" />
<text x="577.30" y="202.40" font-family="Liberation Sans, sans-serif" font-size="8.9" text-anchor="end" font-weight="normal" font-style="normal" fill="#2b2b2b" textLength="13.5" lengthAdjust="spacingAndGlyphs" >180</text>
<line x1="580.40" y1="181.02" x2="583.90" y2="181.02" stroke="#a2a2a2" stroke-width="0.8" />
<text x="577.30" y="184.58" font-family="Liberation Sans, sans-serif" font-size="8.9" text-anchor="end" font-weight="normal" font-style="normal" fill="#2b2b2b" textLength="13.5" lengthAdjust="spacingAndGlyphs" >240</text>
<line x1="580.40" y1="163.20" x2="583.90" y2="163.20" stroke="#a2a2a2" stroke-width="0.8" />
<text x="577.30" y="166.76" font-family="Liberation Sans, sans-serif" font-size="8.9" text-anchor="end" font-weight="normal" font-style="normal" fill="#2b2b2b" textLength="13.5" lengthAdjust="spacingAndGlyphs" >300</text>
<line x1="583.60" y1="252.30" x2="672.20" y2="252.30" stroke="#a0a0a0" stroke-width="0.8" />
<rect x="589.90" y="191.50" width="11.20" height="60.80" fill="#cfcfcf"/>
<line x1="595.50" y1="184.60" x2="595.50" y2="198.40" stroke="#444" stroke-width="0.7" />
<line x1="593.50" y1="184.60" x2="597.50" y2="184.60" stroke="#444" stroke-width="0.7" />
<rect x="607.80" y="219.30" width="11.20" height="33.00" fill="#68a8dd"/>
<line x1="613.40" y1="213.30" x2="613.40" y2="225.30" stroke="#444" stroke-width="0.7" />
<line x1="611.40" y1="213.30" x2="615.40" y2="213.30" stroke="#444" stroke-width="0.7" />
<rect x="637.00" y="236.20" width="11.10" height="16.10" fill="#cfcfcf"/>
<rect x="655.10" y="228.80" width="11.10" height="23.50" fill="#68a8dd"/>
<line x1="660.65" y1="224.70" x2="660.65" y2="232.90" stroke="#444" stroke-width="0.7" />
<line x1="658.65" y1="224.70" x2="662.65" y2="224.70" stroke="#444" stroke-width="0.7" />
<circle cx="594.80" cy="174.10" r="2.0" fill="#111"/>
<circle cx="599.10" cy="184.10" r="2.0" fill="#111"/>
<circle cx="591.10" cy="187.20" r="2.0" fill="#111"/>
<circle cx="595.40" cy="194.30" r="2.0" fill="#111"/>
<circle cx="595.40" cy="213.90" r="2.0" fill="#111"/>
<circle cx="612.80" cy="197.20" r="2.0" fill="#111"/>
<circle cx="612.80" cy="218.30" r="2.0" fill="#111"/>
<circle cx="608.90" cy="225.90" r="2.0" fill="#111"/>
<circle cx="612.80" cy="225.90" r="2.0" fill="#111"/>
<circle cx="616.50" cy="225.90" r="2.0" fill="#111"/>
<circle cx="639.00" cy="229.20" r="2.0" fill="#111"/>
<circle cx="639.00" cy="235.20" r="2.0" fill="#111"/>
<circle cx="642.50" cy="233.20" r="2.0" fill="#111"/>
<circle cx="645.70" cy="233.20" r="2.0" fill="#111"/>
<circle cx="664.60" cy="220.70" r="2.0" fill="#111"/>
<circle cx="657.10" cy="225.20" r="2.0" fill="#111"/>
<circle cx="664.60" cy="232.20" r="2.0" fill="#111"/>
<circle cx="656.10" cy="234.20" r="2.0" fill="#111"/>
<path d="M595.40,154.70 L595.40,152.90 L643.50,152.90 L643.50,154.70" fill="none" stroke="#333" stroke-width="1.1"/>
<text x="602.60" y="150.00" font-family="Liberation Sans, sans-serif" font-size="7.1" text-anchor="start" font-weight="normal" font-style="normal" fill="#333" textLength="33.7" lengthAdjust="spacingAndGlyphs" ><tspan font-style="italic">P</tspan> = 5 × 10<tspan font-size="4.7" dy="-2.6">−5</tspan></text>
<path d="M595.40,168.40 L595.40,166.60 L613.90,166.60 L613.90,168.40" fill="none" stroke="#333" stroke-width="1.1"/>
<text x="589.10" y="163.70" font-family="Liberation Sans, sans-serif" font-size="7.1" text-anchor="start" font-weight="normal" font-style="normal" fill="#333" textLength="31.9" lengthAdjust="spacingAndGlyphs" ><tspan font-style="italic">P</tspan> = 1 × 10<tspan font-size="4.7" dy="-2.6">−3</tspan></text>
<path d="M643.70,209.30 L643.70,207.50 L661.80,207.50 L661.80,209.30" fill="none" stroke="#333" stroke-width="1.1"/>
<text x="640.00" y="204.00" font-family="Liberation Sans, sans-serif" font-size="7.1" text-anchor="start" font-weight="normal" font-style="normal" fill="#333" textLength="24.6" lengthAdjust="spacingAndGlyphs" ><tspan font-style="italic">P</tspan> = 0.57</text>
<text x="590.80" y="265.30" font-family="Liberation Sans, sans-serif" font-size="8.2" text-anchor="start" font-weight="normal" font-style="italic" fill="#333" textLength="15.8" lengthAdjust="spacingAndGlyphs" >Ckb</text>
<text x="606.90" y="261.30" font-family="Liberation Sans, sans-serif" font-size="6.0" text-anchor="start" font-weight="normal" font-style="normal" fill="#333" textLength="9.5" lengthAdjust="spacingAndGlyphs" >fl/fl</text>
<text x="628.80" y="265.30" font-family="Liberation Sans, sans-serif" font-size="8.2" text-anchor="start" font-weight="normal" font-style="italic" fill="#333" textLength="15.3" lengthAdjust="spacingAndGlyphs" >Ckb</text>
<text x="644.90" y="261.30" font-family="Liberation Sans, sans-serif" font-size="6.0" text-anchor="start" font-weight="normal" font-style="normal" fill="#333" textLength="29.1" lengthAdjust="spacingAndGlyphs" >AdipoqCre</text>
<rect x="532.50" y="264.00" width="6.40" height="6.60" fill="#d4d4d4"/>
<text x="543.40" y="269.90" font-family="Liberation Sans, sans-serif" font-size="8.2" text-anchor="start" font-weight="normal" font-style="normal" fill="#333" textLength="29.6" lengthAdjust="spacingAndGlyphs" >Vehicle</text>
<rect x="532.50" y="277.40" width="6.40" height="6.40" fill="#68a8dd"/>
<text x="543.40" y="283.30" font-family="Liberation Sans, sans-serif" font-size="8.2" text-anchor="start" font-weight="normal" font-style="normal" fill="#333" textLength="30.6" lengthAdjust="spacingAndGlyphs" >SBI-425</text>
</svg>
</body></html>
